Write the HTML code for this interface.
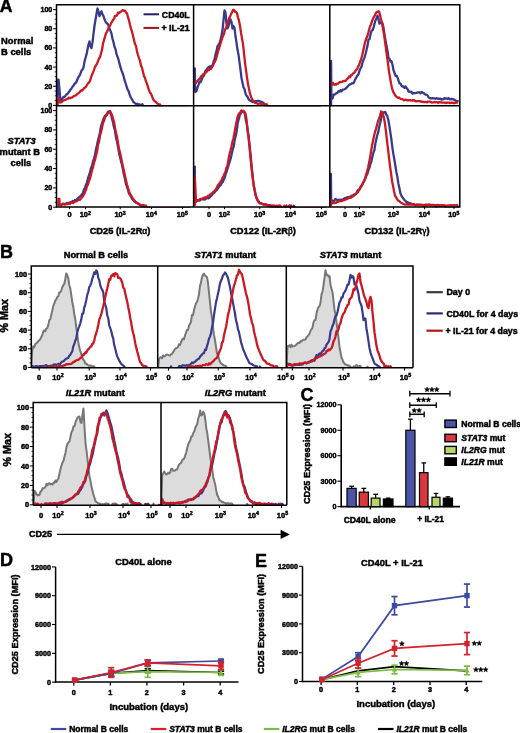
<!DOCTYPE html>
<html><head><meta charset="utf-8"><style>
html,body{margin:0;padding:0;background:#fff;}
body{width:520px;height:733px;overflow:hidden;}
svg{display:block;font-family:"Liberation Sans", sans-serif;filter:blur(0.3px);}
text{stroke:#000;stroke-width:0.45px;}
</style></head><body>
<svg width="520" height="733" viewBox="0 0 520 733">
<rect width="520" height="733" fill="#fff"/>
<defs>
<clipPath id="cA1"><rect x="56.5" y="4.8" width="403.3" height="101.4"/></clipPath>
<clipPath id="cA2"><rect x="56.5" y="105.8" width="403.3" height="101.60000000000001"/></clipPath>
<clipPath id="cB11"><rect x="31.3" y="266.0" width="126.39999999999999" height="102.1"/></clipPath>
<clipPath id="cB12"><rect x="157.7" y="266.0" width="128.60000000000002" height="102.1"/></clipPath>
<clipPath id="cB13"><rect x="286.3" y="266.0" width="126.69999999999999" height="102.1"/></clipPath>
<clipPath id="cB21"><rect x="33.2" y="402.6" width="127.8" height="102.99999999999997"/></clipPath>
<clipPath id="cB22"><rect x="161.0" y="402.6" width="125.80000000000001" height="102.99999999999997"/></clipPath>
</defs>
<text x="-0.20" y="12.40" font-size="17.6" text-anchor="start" font-weight="bold" font-style="normal" fill="#000" >A</text>
<text x="1.00" y="43.50" font-size="9.4" text-anchor="start" font-weight="bold" font-style="normal" fill="#000" >Normal</text>
<text x="1.00" y="54.80" font-size="9.4" text-anchor="start" font-weight="bold" font-style="normal" fill="#000" >B cells</text>
<text x="7.60" y="143.70" font-size="9.3" text-anchor="start" font-weight="bold" font-style="italic" fill="#000" >STAT3</text>
<text x="-0.40" y="154.90" font-size="9.3" text-anchor="start" font-weight="bold" font-style="normal" fill="#000" >mutant B</text>
<text x="10.60" y="166.00" font-size="9.3" text-anchor="start" font-weight="bold" font-style="normal" fill="#000" >cells</text>
<line x1="53.00" y1="105.40" x2="56.50" y2="105.40" stroke="#000" stroke-width="1.0" />
<text x="52.30" y="107.96" font-size="7.1" text-anchor="end" font-weight="bold" font-style="normal" fill="#000" >0</text>
<line x1="53.00" y1="86.24" x2="56.50" y2="86.24" stroke="#000" stroke-width="1.0" />
<text x="52.30" y="88.80" font-size="7.1" text-anchor="end" font-weight="bold" font-style="normal" fill="#000" >20</text>
<line x1="53.00" y1="67.08" x2="56.50" y2="67.08" stroke="#000" stroke-width="1.0" />
<text x="52.30" y="69.64" font-size="7.1" text-anchor="end" font-weight="bold" font-style="normal" fill="#000" >40</text>
<line x1="53.00" y1="47.92" x2="56.50" y2="47.92" stroke="#000" stroke-width="1.0" />
<text x="52.30" y="50.48" font-size="7.1" text-anchor="end" font-weight="bold" font-style="normal" fill="#000" >60</text>
<line x1="53.00" y1="28.76" x2="56.50" y2="28.76" stroke="#000" stroke-width="1.0" />
<text x="52.30" y="31.32" font-size="7.1" text-anchor="end" font-weight="bold" font-style="normal" fill="#000" >80</text>
<line x1="53.00" y1="9.60" x2="56.50" y2="9.60" stroke="#000" stroke-width="1.0" />
<text x="52.30" y="12.16" font-size="7.1" text-anchor="end" font-weight="bold" font-style="normal" fill="#000" >100</text>
<line x1="54.70" y1="100.61" x2="56.50" y2="100.61" stroke="#000" stroke-width="0.8" />
<line x1="54.70" y1="95.82" x2="56.50" y2="95.82" stroke="#000" stroke-width="0.8" />
<line x1="54.70" y1="91.03" x2="56.50" y2="91.03" stroke="#000" stroke-width="0.8" />
<line x1="54.70" y1="81.45" x2="56.50" y2="81.45" stroke="#000" stroke-width="0.8" />
<line x1="54.70" y1="76.66" x2="56.50" y2="76.66" stroke="#000" stroke-width="0.8" />
<line x1="54.70" y1="71.87" x2="56.50" y2="71.87" stroke="#000" stroke-width="0.8" />
<line x1="54.70" y1="62.29" x2="56.50" y2="62.29" stroke="#000" stroke-width="0.8" />
<line x1="54.70" y1="57.50" x2="56.50" y2="57.50" stroke="#000" stroke-width="0.8" />
<line x1="54.70" y1="52.71" x2="56.50" y2="52.71" stroke="#000" stroke-width="0.8" />
<line x1="54.70" y1="43.13" x2="56.50" y2="43.13" stroke="#000" stroke-width="0.8" />
<line x1="54.70" y1="38.34" x2="56.50" y2="38.34" stroke="#000" stroke-width="0.8" />
<line x1="54.70" y1="33.55" x2="56.50" y2="33.55" stroke="#000" stroke-width="0.8" />
<line x1="54.70" y1="23.97" x2="56.50" y2="23.97" stroke="#000" stroke-width="0.8" />
<line x1="54.70" y1="19.18" x2="56.50" y2="19.18" stroke="#000" stroke-width="0.8" />
<line x1="54.70" y1="14.39" x2="56.50" y2="14.39" stroke="#000" stroke-width="0.8" />
<line x1="53.00" y1="207.20" x2="56.50" y2="207.20" stroke="#000" stroke-width="1.0" />
<text x="52.30" y="209.76" font-size="7.1" text-anchor="end" font-weight="bold" font-style="normal" fill="#000" >0</text>
<line x1="53.00" y1="187.88" x2="56.50" y2="187.88" stroke="#000" stroke-width="1.0" />
<text x="52.30" y="190.44" font-size="7.1" text-anchor="end" font-weight="bold" font-style="normal" fill="#000" >20</text>
<line x1="53.00" y1="168.56" x2="56.50" y2="168.56" stroke="#000" stroke-width="1.0" />
<text x="52.30" y="171.12" font-size="7.1" text-anchor="end" font-weight="bold" font-style="normal" fill="#000" >40</text>
<line x1="53.00" y1="149.24" x2="56.50" y2="149.24" stroke="#000" stroke-width="1.0" />
<text x="52.30" y="151.80" font-size="7.1" text-anchor="end" font-weight="bold" font-style="normal" fill="#000" >60</text>
<line x1="53.00" y1="129.92" x2="56.50" y2="129.92" stroke="#000" stroke-width="1.0" />
<text x="52.30" y="132.48" font-size="7.1" text-anchor="end" font-weight="bold" font-style="normal" fill="#000" >80</text>
<line x1="53.00" y1="110.60" x2="56.50" y2="110.60" stroke="#000" stroke-width="1.0" />
<text x="52.30" y="113.16" font-size="7.1" text-anchor="end" font-weight="bold" font-style="normal" fill="#000" >100</text>
<line x1="54.70" y1="202.37" x2="56.50" y2="202.37" stroke="#000" stroke-width="0.8" />
<line x1="54.70" y1="197.54" x2="56.50" y2="197.54" stroke="#000" stroke-width="0.8" />
<line x1="54.70" y1="192.71" x2="56.50" y2="192.71" stroke="#000" stroke-width="0.8" />
<line x1="54.70" y1="183.05" x2="56.50" y2="183.05" stroke="#000" stroke-width="0.8" />
<line x1="54.70" y1="178.22" x2="56.50" y2="178.22" stroke="#000" stroke-width="0.8" />
<line x1="54.70" y1="173.39" x2="56.50" y2="173.39" stroke="#000" stroke-width="0.8" />
<line x1="54.70" y1="163.73" x2="56.50" y2="163.73" stroke="#000" stroke-width="0.8" />
<line x1="54.70" y1="158.90" x2="56.50" y2="158.90" stroke="#000" stroke-width="0.8" />
<line x1="54.70" y1="154.07" x2="56.50" y2="154.07" stroke="#000" stroke-width="0.8" />
<line x1="54.70" y1="144.41" x2="56.50" y2="144.41" stroke="#000" stroke-width="0.8" />
<line x1="54.70" y1="139.58" x2="56.50" y2="139.58" stroke="#000" stroke-width="0.8" />
<line x1="54.70" y1="134.75" x2="56.50" y2="134.75" stroke="#000" stroke-width="0.8" />
<line x1="54.70" y1="125.09" x2="56.50" y2="125.09" stroke="#000" stroke-width="0.8" />
<line x1="54.70" y1="120.26" x2="56.50" y2="120.26" stroke="#000" stroke-width="0.8" />
<line x1="54.70" y1="115.43" x2="56.50" y2="115.43" stroke="#000" stroke-width="0.8" />
<g clip-path="url(#cA1)">
<path d="M57.60,105.40 L57.60,79.60 L58.60,79.60 L60.50,100.88 L61.50,99.84 L62.50,98.48 L63.50,96.91 L64.50,96.95 L65.50,95.69 L66.50,94.33 L67.50,93.91 L68.50,92.56 L69.50,91.36 L70.50,89.57 L71.50,88.53 L72.50,86.78 L73.50,85.68 L74.50,83.75 L75.50,83.25 L76.50,81.72 L77.50,79.25 L78.50,76.97 L79.50,75.72 L80.50,73.45 L81.50,70.59 L82.50,69.59 L83.50,67.36 L84.50,61.61 L85.50,58.03 L86.50,54.40 L87.50,49.43 L88.50,44.55 L89.50,41.42 L90.50,46.18 L91.50,48.12 L92.50,42.41 L93.50,33.80 L94.50,25.76 L95.50,19.70 L96.50,13.97 L97.50,8.53 L98.50,11.90 L99.50,16.21 L100.50,12.85 L101.50,11.25 L102.50,14.43 L103.50,16.13 L104.50,19.29 L105.50,21.59 L106.50,23.07 L107.50,23.62 L108.50,25.52 L109.50,28.42 L110.50,30.91 L111.50,33.61 L112.50,38.75 L113.50,42.16 L114.50,46.73 L115.50,49.19 L116.50,54.11 L117.50,56.59 L118.50,59.54 L119.50,63.70 L120.50,67.09 L121.50,70.37 L122.50,72.78 L123.50,75.80 L124.50,79.96 L125.50,82.99 L126.50,86.11 L127.50,89.43 L128.50,90.94 L129.50,94.13 L130.50,96.73 L131.50,98.55 L132.50,100.16 L133.50,102.15 L134.50,102.78 L135.50,103.74 L136.50,103.79 L137.50,103.70 L138.50,104.27 L139.50,104.47 L140.50,104.58 L141.50,104.53 L142.50,104.29 L143.50,106.90 L144.50,106.90 L145.50,106.90 L146.50,106.90 L147.50,106.90 L148.50,106.90 L149.50,106.90 L150.50,106.90 L151.50,106.90 L152.50,106.90 L153.50,106.90 L154.50,106.90 L155.50,106.90 L156.50,106.90 L157.50,106.90 L158.50,106.90 L159.50,106.90 L160.50,106.90 L161.50,106.90 L162.50,106.90 L163.50,106.90" fill="none" stroke="#383a8e" stroke-width="2.3" stroke-linejoin="round" stroke-linecap="butt"/>
<path d="M57.30,105.40 L57.30,97.00 L60.01,102.54 L61.01,102.42 L62.01,101.75 L63.01,100.84 L64.01,100.35 L65.01,99.77 L66.01,99.56 L67.01,98.96 L68.01,98.72 L69.01,97.61 L70.01,98.42 L71.01,97.66 L72.01,97.51 L73.01,96.68 L74.01,96.05 L75.01,95.69 L76.01,95.17 L77.01,94.12 L78.01,93.46 L79.01,92.85 L80.01,91.64 L81.01,90.51 L82.01,90.57 L83.01,89.67 L84.01,88.28 L85.01,87.56 L86.01,86.63 L87.01,85.00 L88.01,83.35 L89.01,82.60 L90.01,80.92 L91.01,77.71 L92.01,74.71 L93.01,72.33 L94.01,69.83 L95.01,66.71 L96.01,65.32 L97.01,63.72 L98.01,61.17 L99.01,58.65 L100.01,56.92 L101.01,53.56 L102.01,49.82 L103.01,43.73 L104.01,40.00 L105.01,36.58 L106.01,33.26 L107.01,31.60 L108.01,29.79 L109.01,26.51 L110.01,25.84 L111.01,23.42 L112.01,21.75 L113.01,19.89 L114.01,18.92 L115.01,15.86 L116.01,15.93 L117.01,15.30 L118.01,12.57 L119.01,13.13 L120.01,12.06 L121.01,11.89 L122.01,10.50 L123.01,10.14 L124.01,10.91 L125.01,10.62 L126.01,12.50 L127.01,13.34 L128.01,17.42 L129.01,20.34 L130.01,25.00 L131.01,28.61 L132.01,31.66 L133.01,35.82 L134.01,39.91 L135.01,44.25 L136.01,45.85 L137.01,51.58 L138.01,55.02 L139.01,58.05 L140.01,60.83 L141.01,65.78 L142.01,67.72 L143.01,72.04 L144.01,76.11 L145.01,77.97 L146.01,81.48 L147.01,83.86 L148.01,87.09 L149.01,90.16 L150.01,92.71 L151.01,93.64 L152.01,96.27 L153.01,98.86 L154.01,100.57 L155.01,101.43 L156.01,102.22 L157.01,103.33 L158.01,104.02 L159.01,104.43 L160.01,104.38 L161.01,106.90 L162.01,106.90 L163.01,106.90 L164.01,106.90 L165.01,106.90 L166.01,106.90 L167.01,106.90 L168.01,106.90 L169.01,106.90 L170.01,106.90 L171.01,106.90 L172.01,106.90 L173.01,106.90 L174.01,106.90 L175.01,106.90 L176.01,106.90 L177.01,106.90 L178.01,106.90 L179.01,106.90 L180.01,106.90 L181.01,106.90 L182.01,106.90 L183.01,106.90 L184.01,106.90 L185.01,106.90 L186.01,106.90 L187.01,106.90 L188.01,106.90 L189.01,106.90 L190.01,106.90" fill="none" stroke="#cc1822" stroke-width="2.3" stroke-linejoin="round" stroke-linecap="butt"/>
<path d="M194.80,92.00 L194.80,68.50 L195.20,92.00 L196.50,91.04 L197.50,87.44 L198.50,84.82 L199.50,81.73 L200.50,82.26 L201.50,80.21 L202.50,77.29 L203.50,76.23 L204.50,73.62 L205.50,71.01 L206.50,69.82 L207.50,68.12 L208.50,67.25 L209.50,66.44 L210.50,66.82 L211.50,65.87 L212.50,65.75 L213.50,62.13 L214.50,59.44 L215.50,54.44 L216.50,51.16 L217.50,46.13 L218.50,44.91 L219.50,43.17 L220.50,39.84 L221.50,35.33 L222.50,30.26 L223.50,20.36 L224.50,10.30 L225.50,12.69 L226.50,23.54 L227.50,28.39 L228.50,25.97 L229.50,22.28 L230.50,19.34 L231.50,21.87 L232.50,28.63 L233.50,26.05 L234.50,28.05 L235.50,36.28 L236.50,42.67 L237.50,49.56 L238.50,54.67 L239.50,62.09 L240.50,69.73 L241.50,78.12 L242.50,82.83 L243.50,87.31 L244.50,89.05 L245.50,93.34 L246.50,95.76 L247.50,96.69 L248.50,99.02 L249.50,100.42 L250.50,100.69 L251.50,101.23 L252.50,102.04 L253.50,101.67 L254.50,101.53 L255.50,101.27 L256.50,101.36 L257.50,100.80 L258.50,100.84 L259.50,101.11 L260.50,101.60 L261.50,101.78 L262.50,102.34 L263.50,102.85 L264.50,104.47 L265.50,106.90 L266.50,106.90 L267.50,106.90 L268.50,106.90 L269.50,106.90 L270.50,106.90 L271.50,106.90 L272.50,106.90 L273.50,106.90 L274.50,106.90 L275.50,106.90 L276.50,106.90 L277.50,106.90 L278.50,106.90 L279.50,106.90 L280.50,106.90 L281.50,106.90 L282.50,106.90 L283.50,106.90 L284.50,106.90 L285.50,106.90 L286.50,106.90 L287.50,106.90 L288.50,106.90 L289.50,106.90 L290.50,106.90 L291.50,106.90 L292.50,106.90 L293.50,106.90 L294.50,106.90 L295.50,106.90 L296.50,106.90 L297.50,106.90 L298.50,106.90 L299.50,106.90 L300.50,106.90 L301.50,106.90 L302.50,106.90 L303.50,106.90 L304.50,106.90 L305.50,106.90 L306.50,106.90 L307.50,106.90 L308.50,106.90 L309.50,106.90 L310.50,106.90 L311.50,106.90 L312.50,106.90 L313.50,106.90 L314.50,106.90 L315.50,106.90 L316.50,106.90 L317.50,106.90 L318.50,106.90 L319.50,106.90 L320.50,106.90" fill="none" stroke="#383a8e" stroke-width="2.3" stroke-linejoin="round" stroke-linecap="butt"/>
<path d="M194.80,81.60 L196.01,82.84 L197.01,81.44 L198.01,80.35 L199.01,79.24 L200.01,78.54 L201.01,76.28 L202.01,75.82 L203.01,74.34 L204.01,73.94 L205.01,73.47 L206.01,72.22 L207.01,71.60 L208.01,69.50 L209.01,70.05 L210.01,68.59 L211.01,68.87 L212.01,67.06 L213.01,65.60 L214.01,62.84 L215.01,61.48 L216.01,59.08 L217.01,55.13 L218.01,51.42 L219.01,48.64 L220.01,45.24 L221.01,41.76 L222.01,38.87 L223.01,35.93 L224.01,33.77 L225.01,29.42 L226.01,28.64 L227.01,24.83 L228.01,21.58 L229.01,18.43 L230.01,16.65 L231.01,14.36 L232.01,12.21 L233.01,9.83 L234.01,9.84 L235.01,11.86 L236.01,11.93 L237.01,13.28 L238.01,17.57 L239.01,20.65 L240.01,26.02 L241.01,32.71 L242.01,38.51 L243.01,44.16 L244.01,53.10 L245.01,62.86 L246.01,70.21 L247.01,77.66 L248.01,84.12 L249.01,89.09 L250.01,93.43 L251.01,96.74 L252.01,99.08 L253.01,100.61 L254.01,101.68 L255.01,102.92 L256.01,102.99 L257.01,103.41 L258.01,103.90 L259.01,103.67 L260.01,103.66 L261.01,103.98 L262.01,104.28 L263.01,104.44 L264.01,104.15 L265.01,104.14 L266.01,104.44 L267.01,104.52 L268.01,106.90 L269.01,106.90 L270.01,106.90 L271.01,106.90 L272.01,106.90 L273.01,106.90 L274.01,106.90 L275.01,106.90 L276.01,106.90 L277.01,106.90 L278.01,106.90 L279.01,106.90 L280.01,106.90 L281.01,106.90 L282.01,106.90 L283.01,106.90 L284.01,106.90 L285.01,106.90 L286.01,106.90 L287.01,106.90 L288.01,106.90 L289.01,106.90 L290.01,106.90 L291.01,106.90 L292.01,106.90 L293.01,106.90 L294.01,106.90 L295.01,106.90 L296.01,106.90 L297.01,106.90 L298.01,106.90 L299.01,106.90 L300.01,106.90 L301.01,106.90 L302.01,106.90 L303.01,106.90 L304.01,106.90 L305.01,106.90 L306.01,106.90 L307.01,106.90 L308.01,106.90 L309.01,106.90 L310.01,106.90 L311.01,106.90 L312.01,106.90 L313.01,106.90 L314.01,106.90 L315.01,106.90 L316.01,106.90 L317.01,106.90 L318.01,106.90 L319.01,106.90 L320.01,106.90 L321.01,106.90" fill="none" stroke="#cc1822" stroke-width="2.3" stroke-linejoin="round" stroke-linecap="butt"/>
<path d="M331.10,105.40 L331.10,60.80 L331.40,97.70 L332.50,98.61 L333.50,94.68 L334.50,94.71 L335.50,93.76 L336.50,93.19 L337.50,92.82 L338.50,91.24 L339.50,91.52 L340.50,90.21 L341.50,91.45 L342.50,89.71 L343.50,89.61 L344.50,89.25 L345.50,88.67 L346.50,87.68 L347.50,86.63 L348.50,85.58 L349.50,84.39 L350.50,84.43 L351.50,83.49 L352.50,83.27 L353.50,83.27 L354.50,81.12 L355.50,78.84 L356.50,77.12 L357.50,75.42 L358.50,74.14 L359.50,70.70 L360.50,68.32 L361.50,66.69 L362.50,62.60 L363.50,59.85 L364.50,57.61 L365.50,54.03 L366.50,49.99 L367.50,45.84 L368.50,39.53 L369.50,39.20 L370.50,34.54 L371.50,30.74 L372.50,30.29 L373.50,27.72 L374.50,23.72 L375.50,20.38 L376.50,18.29 L377.50,15.61 L378.50,19.13 L379.50,23.68 L380.50,22.74 L381.50,22.30 L382.50,23.37 L383.50,27.56 L384.50,34.62 L385.50,40.15 L386.50,45.85 L387.50,50.74 L388.50,57.99 L389.50,58.93 L390.50,61.50 L391.50,61.28 L392.50,64.74 L393.50,70.17 L394.50,72.72 L395.50,75.80 L396.50,75.60 L397.50,77.44 L398.50,80.47 L399.50,83.27 L400.50,83.55 L401.50,85.63 L402.50,86.53 L403.50,86.33 L404.50,87.83 L405.50,86.51 L406.50,88.00 L407.50,88.79 L408.50,91.63 L409.50,91.52 L410.50,92.14 L411.50,91.70 L412.50,93.60 L413.50,93.25 L414.50,93.19 L415.50,93.18 L416.50,92.84 L417.50,92.49 L418.50,92.33 L419.50,92.29 L420.50,93.34 L421.50,91.92 L422.50,92.57 L423.50,92.88 L424.50,93.77 L425.50,94.58 L426.50,94.61 L427.50,95.43 L428.50,97.23 L429.50,98.18 L430.50,98.25 L431.50,98.39 L432.50,98.09 L433.50,98.41 L434.50,98.39 L435.50,98.77 L436.50,98.07 L437.50,98.71 L438.50,98.74 L439.50,98.86 L440.50,98.65 L441.50,99.67 L442.50,99.13 L443.50,99.25 L444.50,98.08 L445.50,98.68 L446.50,98.49 L447.50,98.98 L448.50,97.99 L449.50,99.25 L450.50,99.41 L451.50,98.80 L452.50,99.09 L453.50,99.36 L454.50,99.86 L455.50,100.44 L456.50,101.32 L457.50,101.12 L458.50,101.65" fill="none" stroke="#383a8e" stroke-width="2.3" stroke-linejoin="round" stroke-linecap="butt"/>
<path d="M331.10,84.60 L332.04,84.61 L333.04,82.96 L334.04,84.75 L335.04,84.18 L336.04,84.59 L337.04,83.57 L338.04,83.66 L339.04,82.58 L340.04,81.86 L341.04,82.20 L342.04,81.96 L343.04,81.22 L344.04,80.89 L345.04,81.01 L346.04,80.45 L347.04,78.99 L348.04,78.28 L349.04,76.53 L350.04,77.36 L351.04,75.35 L352.04,74.86 L353.04,73.40 L354.04,73.21 L355.04,71.66 L356.04,69.75 L357.04,69.49 L358.04,66.49 L359.04,65.32 L360.04,61.68 L361.04,59.67 L362.04,55.98 L363.04,51.42 L364.04,46.90 L365.04,42.31 L366.04,39.29 L367.04,36.77 L368.04,33.91 L369.04,29.94 L370.04,26.22 L371.04,24.58 L372.04,20.92 L373.04,18.78 L374.04,16.61 L375.04,15.03 L376.04,12.70 L377.04,11.97 L378.04,11.36 L379.04,11.40 L380.04,15.19 L381.04,19.19 L382.04,23.10 L383.04,29.17 L384.04,34.37 L385.04,41.89 L386.04,49.25 L387.04,56.68 L388.04,63.84 L389.04,71.87 L390.04,77.61 L391.04,83.56 L392.04,88.37 L393.04,91.56 L394.04,93.20 L395.04,94.97 L396.04,96.39 L397.04,97.23 L398.04,97.81 L399.04,97.48 L400.04,98.49 L401.04,98.83 L402.04,99.12 L403.04,99.58 L404.04,100.43 L405.04,99.81 L406.04,99.71 L407.04,100.23 L408.04,100.18 L409.04,100.45 L410.04,100.11 L411.04,100.46 L412.04,100.60 L413.04,100.16 L414.04,100.15 L415.04,101.21 L416.04,101.26 L417.04,101.08 L418.04,101.04 L419.04,101.24 L420.04,101.10 L421.04,101.33 L422.04,101.95 L423.04,101.66 L424.04,102.21 L425.04,102.00 L426.04,102.05 L427.04,102.26 L428.04,101.57 L429.04,101.70 L430.04,101.63 L431.04,102.13 L432.04,102.66 L433.04,102.33 L434.04,101.96 L435.04,102.39 L436.04,102.15 L437.04,102.11 L438.04,102.99 L439.04,102.12 L440.04,102.46 L441.04,102.19 L442.04,102.67 L443.04,102.62 L444.04,102.65 L445.04,102.68 L446.04,103.11 L447.04,102.60 L448.04,102.68 L449.04,102.64 L450.04,103.16 L451.04,102.75 L452.04,102.57 L453.04,102.75 L454.04,103.30 L455.04,102.66 L456.04,102.73 L457.04,102.60 L458.04,102.42" fill="none" stroke="#cc1822" stroke-width="2.3" stroke-linejoin="round" stroke-linecap="butt"/>
</g>
<g clip-path="url(#cA2)">
<path d="M58.96,205.52 L59.96,205.08 L60.96,205.12 L61.96,204.61 L62.96,203.70 L63.96,203.99 L64.96,203.83 L65.96,203.77 L66.96,202.86 L67.96,203.21 L68.96,202.71 L69.96,202.67 L70.96,201.98 L71.96,201.80 L72.96,200.89 L73.96,201.74 L74.96,200.04 L75.96,200.44 L76.96,199.23 L77.96,198.25 L78.96,197.56 L79.96,196.47 L80.96,195.86 L81.96,194.15 L82.96,192.93 L83.96,189.47 L84.96,188.13 L85.96,184.77 L86.96,182.79 L87.96,178.14 L88.96,175.43 L89.96,172.27 L90.96,168.27 L91.96,165.92 L92.96,161.64 L93.96,158.81 L94.96,155.18 L95.96,149.49 L96.96,145.14 L97.96,140.57 L98.96,136.88 L99.96,132.46 L100.96,126.61 L101.96,123.35 L102.96,120.33 L103.96,117.74 L104.96,116.09 L105.96,114.85 L106.96,114.43 L107.96,111.76 L108.96,111.66 L109.96,112.72 L110.96,114.09 L111.96,118.59 L112.96,122.28 L113.96,127.18 L114.96,130.36 L115.96,137.57 L116.96,141.11 L117.96,146.81 L118.96,152.40 L119.96,156.88 L120.96,161.11 L121.96,164.78 L122.96,169.51 L123.96,174.84 L124.96,178.86 L125.96,183.98 L126.96,187.01 L127.96,189.66 L128.96,193.65 L129.96,194.94 L130.96,196.51 L131.96,198.78 L132.96,199.55 L133.96,201.27 L134.96,201.53 L135.96,202.75 L136.96,202.99 L137.96,203.55 L138.96,204.15 L139.96,204.79 L140.96,205.24 L141.96,208.10 L142.96,205.31 L143.96,208.10 L144.96,208.10 L145.96,208.10 L146.96,208.10 L147.96,208.10 L148.96,208.10 L149.96,208.10 L150.96,208.10 L151.96,208.10 L152.96,208.10 L153.96,208.10 L154.96,208.10 L155.96,208.10 L156.96,208.10 L157.96,208.10 L158.96,208.10 L159.96,208.10 L160.96,208.10 L161.96,208.10 L162.96,208.10 L163.96,208.10 L164.96,208.10 L165.96,208.10 L166.96,208.10 L167.96,208.10 L168.96,208.10 L169.96,208.10 L170.96,208.10 L171.96,208.10 L172.96,208.10 L173.96,208.10 L174.96,208.10 L175.96,208.10 L176.96,208.10 L177.96,208.10 L178.96,208.10 L179.96,208.10 L180.96,208.10 L181.96,208.10 L182.96,208.10 L183.96,208.10 L184.96,208.10 L185.96,208.10 L186.96,208.10 L187.96,208.10 L188.96,208.10 L189.96,208.10" fill="none" stroke="#383a8e" stroke-width="2.3" stroke-linejoin="round" stroke-linecap="butt"/>
<path d="M58.40,206.00 L58.40,198.80 L59.40,198.80 L59.60,204.60 L60.04,205.04 L61.04,204.52 L62.04,204.36 L63.04,203.93 L64.04,204.42 L65.04,204.60 L66.04,204.17 L67.04,204.02 L68.04,204.06 L69.04,203.22 L70.04,203.93 L71.04,202.60 L72.04,202.62 L73.04,203.05 L74.04,202.17 L75.04,201.70 L76.04,201.36 L77.04,201.20 L78.04,199.82 L79.04,199.62 L80.04,199.87 L81.04,198.64 L82.04,197.21 L83.04,196.02 L84.04,194.35 L85.04,192.04 L86.04,189.64 L87.04,186.25 L88.04,184.19 L89.04,180.67 L90.04,178.39 L91.04,174.49 L92.04,170.06 L93.04,167.12 L94.04,162.51 L95.04,159.93 L96.04,155.11 L97.04,151.62 L98.04,144.70 L99.04,141.55 L100.04,135.22 L101.04,132.07 L102.04,127.43 L103.04,122.84 L104.04,120.65 L105.04,117.34 L106.04,115.88 L107.04,114.75 L108.04,112.62 L109.04,112.04 L110.04,110.90 L111.04,113.42 L112.04,115.06 L113.04,118.63 L114.04,122.23 L115.04,127.87 L116.04,132.99 L117.04,137.10 L118.04,143.10 L119.04,149.15 L120.04,152.88 L121.04,157.28 L122.04,162.84 L123.04,166.99 L124.04,171.24 L125.04,175.93 L126.04,180.47 L127.04,184.83 L128.04,188.19 L129.04,191.03 L130.04,194.02 L131.04,195.39 L132.04,197.25 L133.04,198.73 L134.04,199.88 L135.04,201.30 L136.04,202.33 L137.04,202.76 L138.04,203.84 L139.04,203.93 L140.04,204.88 L141.04,205.28 L142.04,205.25 L143.04,205.06 L144.04,205.55 L145.04,205.51 L146.04,205.68 L147.04,208.10 L148.04,208.10 L149.04,208.10 L150.04,208.10 L151.04,208.10 L152.04,208.10 L153.04,208.10 L154.04,208.10 L155.04,208.10 L156.04,208.10 L157.04,208.10 L158.04,208.10 L159.04,208.10 L160.04,208.10 L161.04,208.10 L162.04,208.10 L163.04,208.10 L164.04,208.10 L165.04,208.10 L166.04,208.10 L167.04,208.10 L168.04,208.10 L169.04,208.10 L170.04,208.10 L171.04,208.10 L172.04,208.10 L173.04,208.10 L174.04,208.10 L175.04,208.10 L176.04,208.10 L177.04,208.10 L178.04,208.10 L179.04,208.10 L180.04,208.10 L181.04,208.10 L182.04,208.10 L183.04,208.10 L184.04,208.10 L185.04,208.10 L186.04,208.10 L187.04,208.10 L188.04,208.10 L189.04,208.10 L190.04,208.10" fill="none" stroke="#cc1822" stroke-width="2.3" stroke-linejoin="round" stroke-linecap="butt"/>
<path d="M194.80,205.50 L194.80,166.60 L195.00,200.00 L195.77,202.07 L196.77,200.99 L197.77,200.72 L198.77,200.65 L199.77,200.50 L200.77,199.71 L201.77,199.30 L202.77,199.05 L203.77,199.46 L204.77,199.67 L205.77,198.85 L206.77,198.19 L207.77,198.04 L208.77,198.27 L209.77,197.34 L210.77,196.05 L211.77,195.39 L212.77,193.85 L213.77,193.19 L214.77,192.19 L215.77,190.74 L216.77,190.19 L217.77,188.58 L218.77,187.02 L219.77,185.87 L220.77,185.03 L221.77,182.73 L222.77,182.04 L223.77,179.57 L224.77,177.41 L225.77,173.88 L226.77,171.28 L227.77,168.00 L228.77,164.52 L229.77,161.30 L230.77,158.24 L231.77,153.67 L232.77,149.25 L233.77,146.31 L234.77,139.43 L235.77,135.71 L236.77,130.42 L237.77,122.69 L238.77,119.24 L239.77,115.13 L240.77,113.13 L241.77,112.34 L242.77,111.02 L243.77,112.40 L244.77,112.66 L245.77,120.20 L246.77,123.45 L247.77,130.78 L248.77,137.28 L249.77,147.15 L250.77,156.32 L251.77,168.06 L252.77,177.02 L253.77,186.22 L254.77,191.08 L255.77,195.90 L256.77,198.72 L257.77,200.03 L258.77,201.54 L259.77,203.16 L260.77,203.08 L261.77,203.50 L262.77,203.89 L263.77,204.46 L264.77,204.45 L265.77,204.67 L266.77,205.15 L267.77,205.35 L268.77,205.18 L269.77,205.61 L270.77,205.40 L271.77,205.60 L272.77,205.67 L273.77,208.10 L274.77,208.10 L275.77,208.10 L276.77,208.10 L277.77,208.10 L278.77,205.75 L279.77,205.63 L280.77,208.10 L281.77,208.10 L282.77,208.10 L283.77,208.10 L284.77,208.10 L285.77,208.10 L286.77,208.10 L287.77,208.10 L288.77,205.80 L289.77,205.54 L290.77,205.73 L291.77,208.10 L292.77,208.10 L293.77,205.77 L294.77,208.10 L295.77,208.10 L296.77,208.10 L297.77,208.10 L298.77,208.10 L299.77,208.10 L300.77,208.10 L301.77,208.10 L302.77,208.10 L303.77,208.10 L304.77,208.10 L305.77,208.10 L306.77,208.10 L307.77,208.10 L308.77,208.10 L309.77,208.10 L310.77,208.10 L311.77,208.10 L312.77,208.10 L313.77,208.10 L314.77,208.10 L315.77,208.10 L316.77,208.10 L317.77,208.10 L318.77,208.10 L319.77,208.10 L320.77,208.10 L321.77,208.10 L322.77,208.10 L323.77,208.10 L324.77,208.10 L325.77,208.10" fill="none" stroke="#383a8e" stroke-width="2.3" stroke-linejoin="round" stroke-linecap="butt"/>
<path d="M194.80,205.50 L194.80,176.40 L196.00,201.30 L197.38,200.72 L198.38,199.77 L199.38,199.58 L200.38,198.84 L201.38,198.89 L202.38,198.97 L203.38,197.90 L204.38,198.12 L205.38,197.21 L206.38,197.68 L207.38,196.43 L208.38,195.61 L209.38,195.28 L210.38,194.43 L211.38,193.55 L212.38,193.08 L213.38,191.82 L214.38,191.28 L215.38,189.99 L216.38,188.27 L217.38,186.39 L218.38,184.60 L219.38,183.57 L220.38,181.85 L221.38,180.80 L222.38,178.01 L223.38,176.27 L224.38,174.03 L225.38,172.03 L226.38,167.92 L227.38,165.83 L228.38,160.21 L229.38,154.74 L230.38,150.99 L231.38,147.06 L232.38,141.94 L233.38,138.82 L234.38,133.22 L235.38,127.63 L236.38,122.59 L237.38,117.82 L238.38,114.69 L239.38,113.22 L240.38,112.26 L241.38,110.39 L242.38,111.74 L243.38,110.77 L244.38,111.95 L245.38,113.17 L246.38,118.46 L247.38,128.78 L248.38,136.72 L249.38,145.32 L250.38,156.70 L251.38,166.42 L252.38,175.42 L253.38,183.36 L254.38,188.32 L255.38,193.76 L256.38,197.18 L257.38,200.00 L258.38,201.84 L259.38,202.98 L260.38,203.56 L261.38,203.52 L262.38,204.09 L263.38,204.49 L264.38,204.49 L265.38,204.15 L266.38,204.55 L267.38,205.12 L268.38,205.03 L269.38,205.44 L270.38,205.42 L271.38,208.10 L272.38,208.10 L273.38,205.66 L274.38,205.50 L275.38,208.10 L276.38,205.73 L277.38,205.70 L278.38,208.10 L279.38,205.79 L280.38,205.68 L281.38,208.10 L282.38,208.10 L283.38,208.10 L284.38,205.78 L285.38,208.10 L286.38,205.54 L287.38,208.10 L288.38,208.10 L289.38,205.63 L290.38,208.10 L291.38,205.79 L292.38,208.10 L293.38,208.10 L294.38,208.10 L295.38,208.10 L296.38,208.10 L297.38,208.10 L298.38,208.10 L299.38,208.10 L300.38,208.10 L301.38,208.10 L302.38,208.10 L303.38,208.10 L304.38,208.10 L305.38,208.10 L306.38,208.10 L307.38,208.10 L308.38,208.10 L309.38,208.10 L310.38,208.10 L311.38,208.10 L312.38,208.10 L313.38,208.10 L314.38,208.10 L315.38,208.10 L316.38,208.10 L317.38,208.10 L318.38,208.10 L319.38,208.10 L320.38,208.10 L321.38,208.10 L322.38,208.10 L323.38,208.10 L324.38,208.10 L325.38,208.10 L326.38,208.10" fill="none" stroke="#cc1822" stroke-width="2.3" stroke-linejoin="round" stroke-linecap="butt"/>
<path d="M330.90,206.00 L330.90,173.80 L331.20,200.50 L333.38,200.79 L334.38,200.77 L335.38,198.91 L336.38,199.57 L337.38,199.86 L338.38,199.84 L339.38,199.77 L340.38,199.98 L341.38,199.62 L342.38,199.57 L343.38,199.35 L344.38,198.29 L345.38,197.97 L346.38,197.98 L347.38,197.17 L348.38,197.31 L349.38,196.95 L350.38,196.80 L351.38,195.68 L352.38,196.30 L353.38,194.94 L354.38,194.33 L355.38,194.09 L356.38,193.11 L357.38,190.90 L358.38,189.90 L359.38,189.62 L360.38,187.14 L361.38,186.50 L362.38,184.33 L363.38,182.36 L364.38,179.92 L365.38,178.33 L366.38,175.60 L367.38,173.99 L368.38,170.34 L369.38,167.83 L370.38,164.14 L371.38,161.32 L372.38,156.94 L373.38,152.60 L374.38,150.22 L375.38,143.50 L376.38,138.91 L377.38,134.79 L378.38,131.40 L379.38,126.00 L380.38,122.25 L381.38,117.38 L382.38,113.40 L383.38,113.10 L384.38,112.03 L385.38,112.09 L386.38,114.80 L387.38,116.15 L388.38,120.28 L389.38,125.83 L390.38,132.67 L391.38,139.32 L392.38,147.56 L393.38,154.07 L394.38,159.75 L395.38,165.91 L396.38,172.23 L397.38,176.82 L398.38,183.66 L399.38,187.99 L400.38,193.25 L401.38,195.66 L402.38,197.33 L403.38,198.42 L404.38,200.00 L405.38,200.90 L406.38,201.98 L407.38,202.20 L408.38,203.17 L409.38,202.85 L410.38,203.49 L411.38,203.72 L412.38,204.61 L413.38,204.22 L414.38,204.84 L415.38,205.33 L416.38,204.70 L417.38,204.55 L418.38,204.86 L419.38,204.70 L420.38,204.89 L421.38,204.76 L422.38,205.08 L423.38,205.18 L424.38,205.39 L425.38,205.01 L426.38,205.49 L427.38,204.94 L428.38,204.89 L429.38,204.85 L430.38,205.05 L431.38,205.09 L432.38,205.35 L433.38,205.48 L434.38,205.55 L435.38,205.53 L436.38,208.10 L437.38,205.15 L438.38,205.22 L439.38,205.54 L440.38,205.53 L441.38,205.28 L442.38,205.62 L443.38,205.66 L444.38,205.34 L445.38,208.10 L446.38,208.10 L447.38,208.10 L448.38,208.10 L449.38,208.10 L450.38,208.10 L451.38,208.10 L452.38,208.10 L453.38,208.10 L454.38,208.10 L455.38,208.10 L456.38,208.10 L457.38,208.10 L458.38,205.53" fill="none" stroke="#383a8e" stroke-width="2.3" stroke-linejoin="round" stroke-linecap="butt"/>
<path d="M330.90,206.00 L330.90,199.30 L332.00,203.50 L332.04,202.22 L333.04,202.89 L334.04,203.05 L335.04,202.84 L336.04,202.91 L337.04,201.98 L338.04,201.83 L339.04,201.36 L340.04,201.08 L341.04,200.99 L342.04,201.07 L343.04,200.36 L344.04,200.07 L345.04,199.72 L346.04,199.35 L347.04,198.89 L348.04,198.45 L349.04,198.01 L350.04,197.17 L351.04,197.70 L352.04,196.29 L353.04,196.31 L354.04,195.46 L355.04,194.81 L356.04,193.96 L357.04,192.90 L358.04,192.08 L359.04,189.87 L360.04,188.84 L361.04,185.86 L362.04,185.24 L363.04,183.03 L364.04,181.27 L365.04,179.33 L366.04,174.56 L367.04,171.88 L368.04,167.68 L369.04,162.89 L370.04,157.61 L371.04,151.43 L372.04,145.75 L373.04,140.69 L374.04,136.30 L375.04,131.78 L376.04,128.89 L377.04,124.78 L378.04,121.28 L379.04,118.66 L380.04,115.76 L381.04,111.46 L382.04,111.99 L383.04,114.54 L384.04,118.09 L385.04,124.20 L386.04,132.21 L387.04,141.03 L388.04,149.32 L389.04,157.91 L390.04,166.59 L391.04,173.16 L392.04,181.14 L393.04,185.79 L394.04,191.19 L395.04,195.72 L396.04,197.06 L397.04,199.27 L398.04,200.51 L399.04,200.93 L400.04,201.81 L401.04,202.78 L402.04,203.27 L403.04,203.70 L404.04,204.26 L405.04,204.63 L406.04,204.58 L407.04,203.65 L408.04,204.57 L409.04,204.53 L410.04,204.52 L411.04,204.27 L412.04,204.40 L413.04,204.40 L414.04,204.26 L415.04,204.86 L416.04,204.95 L417.04,204.85 L418.04,204.75 L419.04,205.15 L420.04,205.00 L421.04,205.07 L422.04,204.83 L423.04,205.40 L424.04,204.88 L425.04,205.37 L426.04,204.48 L427.04,205.00 L428.04,205.17 L429.04,204.52 L430.04,204.98 L431.04,204.98 L432.04,204.97 L433.04,204.90 L434.04,204.96 L435.04,205.26 L436.04,205.20 L437.04,205.17 L438.04,204.99 L439.04,205.06 L440.04,205.62 L441.04,205.19 L442.04,205.15 L443.04,205.26 L444.04,205.43 L445.04,205.55 L446.04,205.54 L447.04,205.56 L448.04,205.45 L449.04,205.34 L450.04,205.45 L451.04,205.10 L452.04,205.31 L453.04,205.58 L454.04,205.13 L455.04,205.35 L456.04,205.36 L457.04,204.99 L458.04,204.86" fill="none" stroke="#cc1822" stroke-width="2.3" stroke-linejoin="round" stroke-linecap="butt"/>
</g>
<path d="M56.5,207.0 L56.5,4.8 L459.8,4.8 L459.8,207.0 Z M56.5,105.8 L459.8,105.8 M193.6,4.8 L193.6,207.0 M329.8,4.8 L329.8,207.0" fill="none" stroke="#000" stroke-width="1.5"/>
<line x1="143.50" y1="14.30" x2="159.00" y2="14.30" stroke="#22206a" stroke-width="2.0" />
<text x="161.80" y="17.80" font-size="8.8" text-anchor="start" font-weight="bold" font-style="normal" fill="#000" >CD40L</text>
<line x1="143.50" y1="27.90" x2="159.00" y2="27.90" stroke="#a0101a" stroke-width="2.0" />
<text x="161.50" y="30.90" font-size="8.8" text-anchor="start" font-weight="bold" font-style="normal" fill="#000" >+ IL-21</text>
<line x1="69.50" y1="207.00" x2="69.50" y2="209.20" stroke="#000" stroke-width="1.0" />
<line x1="85.50" y1="207.00" x2="85.50" y2="209.20" stroke="#000" stroke-width="1.0" />
<line x1="120.20" y1="207.00" x2="120.20" y2="209.20" stroke="#000" stroke-width="1.0" />
<line x1="151.50" y1="207.00" x2="151.50" y2="209.20" stroke="#000" stroke-width="1.0" />
<line x1="182.50" y1="207.00" x2="182.50" y2="209.20" stroke="#000" stroke-width="1.0" />
<text x="69.50" y="217.10" font-size="7.4" text-anchor="middle" font-weight="bold" font-style="normal" fill="#000" >0</text>
<text x="85.30" y="217.10" font-size="7.4" text-anchor="middle" font-weight="bold">10<tspan font-size="5.18" dy="-2.59">2</tspan></text>
<text x="120.00" y="217.10" font-size="7.4" text-anchor="middle" font-weight="bold">10<tspan font-size="5.18" dy="-2.59">3</tspan></text>
<text x="151.30" y="217.10" font-size="7.4" text-anchor="middle" font-weight="bold">10<tspan font-size="5.18" dy="-2.59">4</tspan></text>
<text x="182.30" y="217.10" font-size="7.4" text-anchor="middle" font-weight="bold">10<tspan font-size="5.18" dy="-2.59">5</tspan></text>
<line x1="209.00" y1="207.00" x2="209.00" y2="209.20" stroke="#000" stroke-width="1.0" />
<line x1="224.50" y1="207.00" x2="224.50" y2="209.20" stroke="#000" stroke-width="1.0" />
<line x1="259.80" y1="207.00" x2="259.80" y2="209.20" stroke="#000" stroke-width="1.0" />
<line x1="290.50" y1="207.00" x2="290.50" y2="209.20" stroke="#000" stroke-width="1.0" />
<line x1="321.50" y1="207.00" x2="321.50" y2="209.20" stroke="#000" stroke-width="1.0" />
<text x="209.00" y="217.10" font-size="7.4" text-anchor="middle" font-weight="bold" font-style="normal" fill="#000" >0</text>
<text x="224.30" y="217.10" font-size="7.4" text-anchor="middle" font-weight="bold">10<tspan font-size="5.18" dy="-2.59">2</tspan></text>
<text x="259.60" y="217.10" font-size="7.4" text-anchor="middle" font-weight="bold">10<tspan font-size="5.18" dy="-2.59">3</tspan></text>
<text x="290.30" y="217.10" font-size="7.4" text-anchor="middle" font-weight="bold">10<tspan font-size="5.18" dy="-2.59">4</tspan></text>
<text x="321.30" y="217.10" font-size="7.4" text-anchor="middle" font-weight="bold">10<tspan font-size="5.18" dy="-2.59">5</tspan></text>
<line x1="345.00" y1="207.00" x2="345.00" y2="209.20" stroke="#000" stroke-width="1.0" />
<line x1="359.50" y1="207.00" x2="359.50" y2="209.20" stroke="#000" stroke-width="1.0" />
<line x1="393.50" y1="207.00" x2="393.50" y2="209.20" stroke="#000" stroke-width="1.0" />
<line x1="424.50" y1="207.00" x2="424.50" y2="209.20" stroke="#000" stroke-width="1.0" />
<line x1="454.00" y1="207.00" x2="454.00" y2="209.20" stroke="#000" stroke-width="1.0" />
<text x="345.00" y="217.10" font-size="7.4" text-anchor="middle" font-weight="bold" font-style="normal" fill="#000" >0</text>
<text x="359.30" y="217.10" font-size="7.4" text-anchor="middle" font-weight="bold">10<tspan font-size="5.18" dy="-2.59">2</tspan></text>
<text x="393.30" y="217.10" font-size="7.4" text-anchor="middle" font-weight="bold">10<tspan font-size="5.18" dy="-2.59">3</tspan></text>
<text x="424.30" y="217.10" font-size="7.4" text-anchor="middle" font-weight="bold">10<tspan font-size="5.18" dy="-2.59">4</tspan></text>
<text x="453.80" y="217.10" font-size="7.4" text-anchor="middle" font-weight="bold">10<tspan font-size="5.18" dy="-2.59">5</tspan></text>
<text x="120.00" y="234.00" font-size="9.3" text-anchor="middle" font-weight="bold" font-style="normal" fill="#000" >CD25 (IL-2R<tspan font-family="Liberation Serif" font-weight="normal">&#945;</tspan>)</text>
<text x="263.00" y="234.00" font-size="9.3" text-anchor="middle" font-weight="bold" font-style="normal" fill="#000" >CD122 (IL-2R<tspan font-family="Liberation Serif" font-weight="normal">&#946;</tspan>)</text>
<text x="397.00" y="234.00" font-size="9.3" text-anchor="middle" font-weight="bold" font-style="normal" fill="#000" >CD132 (IL-2R<tspan font-family="Liberation Serif" font-weight="normal">&#947;</tspan>)</text>
<text x="0.10" y="258.10" font-size="18" text-anchor="start" font-weight="bold" font-style="normal" fill="#000" >B</text>
<g clip-path="url(#cB11)">
<path d="M31.25,368.60 L32.25,350.42 L33.25,346.22 L34.25,347.14 L35.25,344.32 L36.25,343.32 L37.25,342.43 L38.25,341.28 L39.25,340.33 L40.25,339.11 L41.25,337.07 L42.25,335.32 L43.25,331.46 L44.25,330.32 L45.25,331.34 L46.25,328.59 L47.25,328.10 L48.25,325.34 L49.25,320.31 L50.25,319.35 L51.25,314.93 L52.25,310.75 L53.25,305.94 L54.25,303.67 L55.25,300.71 L56.25,299.49 L57.25,297.00 L58.25,296.41 L59.25,292.58 L60.25,292.34 L61.25,290.69 L62.25,287.21 L63.25,285.22 L64.25,284.03 L65.25,279.23 L66.25,273.41 L67.25,274.99 L68.25,278.17 L69.25,285.00 L70.25,288.21 L71.25,294.83 L72.25,301.96 L73.25,306.49 L74.25,314.07 L75.25,319.04 L76.25,327.32 L77.25,333.98 L78.25,341.85 L79.25,347.34 L80.25,350.84 L81.25,353.86 L82.25,357.52 L83.25,359.69 L84.25,360.48 L85.25,363.57 L86.25,363.45 L87.25,364.70 L88.25,365.30 L89.25,365.83 L90.25,365.55 L91.25,365.82 L92.25,366.26 L93.25,366.30 L94.25,366.57 L95.25,368.60 L96.25,368.60 L97.25,368.60 L98.25,368.60 L99.25,368.60 L100.25,368.60 L101.25,368.60 L102.25,368.60 L103.25,368.60 L104.25,368.60 L105.25,368.60 L106.25,368.60 L107.25,368.60 L108.25,368.60 L109.25,368.60 L110.25,368.60 L111.25,368.60 L112.25,368.60 L113.25,368.60 L114.25,368.60 L115.25,368.60 L116.25,368.60 L117.25,368.60 L118.25,368.60 L119.25,368.60 L120.25,368.60 L121.25,368.60 L122.25,368.60 L123.25,368.60 L124.25,368.60 L125.25,368.60 L126.25,368.60 L127.25,368.60 L128.25,368.60 L129.25,368.60 L130.25,368.60 L131.25,368.60 L132.25,368.60 L133.25,368.60 L134.25,368.60 L135.25,368.60 L136.25,368.60 L137.25,368.60 L138.25,368.60 L139.25,368.60 L140.25,368.60 L141.25,368.60 L142.25,368.60 L143.25,368.60 L144.25,368.60 L145.25,368.60 L146.25,368.60 L147.25,368.60 L148.25,368.60 L149.25,368.60 L150.25,368.60 L151.25,368.60 L152.25,368.60 L153.25,368.60 L154.25,368.60 L154.25,367.40 L31.25,367.40 Z" fill="#dcdcdc" stroke="none"/>
<path d="M31.25,368.60 L32.25,350.42 L33.25,346.22 L34.25,347.14 L35.25,344.32 L36.25,343.32 L37.25,342.43 L38.25,341.28 L39.25,340.33 L40.25,339.11 L41.25,337.07 L42.25,335.32 L43.25,331.46 L44.25,330.32 L45.25,331.34 L46.25,328.59 L47.25,328.10 L48.25,325.34 L49.25,320.31 L50.25,319.35 L51.25,314.93 L52.25,310.75 L53.25,305.94 L54.25,303.67 L55.25,300.71 L56.25,299.49 L57.25,297.00 L58.25,296.41 L59.25,292.58 L60.25,292.34 L61.25,290.69 L62.25,287.21 L63.25,285.22 L64.25,284.03 L65.25,279.23 L66.25,273.41 L67.25,274.99 L68.25,278.17 L69.25,285.00 L70.25,288.21 L71.25,294.83 L72.25,301.96 L73.25,306.49 L74.25,314.07 L75.25,319.04 L76.25,327.32 L77.25,333.98 L78.25,341.85 L79.25,347.34 L80.25,350.84 L81.25,353.86 L82.25,357.52 L83.25,359.69 L84.25,360.48 L85.25,363.57 L86.25,363.45 L87.25,364.70 L88.25,365.30 L89.25,365.83 L90.25,365.55 L91.25,365.82 L92.25,366.26 L93.25,366.30 L94.25,366.57 L95.25,368.60 L96.25,368.60 L97.25,368.60 L98.25,368.60 L99.25,368.60 L100.25,368.60 L101.25,368.60 L102.25,368.60 L103.25,368.60 L104.25,368.60 L105.25,368.60 L106.25,368.60 L107.25,368.60 L108.25,368.60 L109.25,368.60 L110.25,368.60 L111.25,368.60 L112.25,368.60 L113.25,368.60 L114.25,368.60 L115.25,368.60 L116.25,368.60 L117.25,368.60 L118.25,368.60 L119.25,368.60 L120.25,368.60 L121.25,368.60 L122.25,368.60 L123.25,368.60 L124.25,368.60 L125.25,368.60 L126.25,368.60 L127.25,368.60 L128.25,368.60 L129.25,368.60 L130.25,368.60 L131.25,368.60 L132.25,368.60 L133.25,368.60 L134.25,368.60 L135.25,368.60 L136.25,368.60 L137.25,368.60 L138.25,368.60 L139.25,368.60 L140.25,368.60 L141.25,368.60 L142.25,368.60 L143.25,368.60 L144.25,368.60 L145.25,368.60 L146.25,368.60 L147.25,368.60 L148.25,368.60 L149.25,368.60 L150.25,368.60 L151.25,368.60 L152.25,368.60 L153.25,368.60 L154.25,368.60" fill="none" stroke="#777777" stroke-width="2.0" stroke-linejoin="round" stroke-linecap="butt"/>
<path d="M31.25,366.02 L32.25,365.97 L33.25,366.20 L34.25,368.60 L35.25,366.24 L36.25,365.98 L37.25,366.22 L38.25,368.60 L39.25,366.19 L40.25,366.00 L41.25,366.17 L42.25,366.02 L43.25,365.96 L44.25,366.18 L45.25,365.44 L46.25,365.01 L47.25,366.16 L48.25,366.02 L49.25,366.21 L50.25,365.84 L51.25,365.69 L52.25,366.32 L53.25,364.71 L54.25,364.73 L55.25,364.34 L56.25,364.99 L57.25,364.40 L58.25,363.84 L59.25,364.11 L60.25,364.06 L61.25,362.31 L62.25,361.52 L63.25,361.36 L64.25,360.57 L65.25,359.39 L66.25,358.70 L67.25,358.25 L68.25,358.04 L69.25,355.60 L70.25,355.01 L71.25,352.86 L72.25,351.66 L73.25,346.36 L74.25,344.25 L75.25,340.73 L76.25,338.53 L77.25,332.51 L78.25,328.68 L79.25,326.37 L80.25,323.49 L81.25,319.65 L82.25,313.60 L83.25,313.64 L84.25,307.53 L85.25,304.60 L86.25,300.13 L87.25,294.90 L88.25,292.08 L89.25,287.03 L90.25,285.54 L91.25,283.12 L92.25,278.85 L93.25,275.98 L94.25,272.27 L95.25,273.92 L96.25,270.46 L97.25,271.88 L98.25,277.87 L99.25,279.90 L100.25,285.38 L101.25,288.22 L102.25,289.74 L103.25,292.37 L104.25,301.36 L105.25,304.76 L106.25,307.98 L107.25,315.40 L108.25,318.26 L109.25,325.52 L110.25,328.17 L111.25,331.00 L112.25,335.65 L113.25,338.62 L114.25,345.30 L115.25,348.80 L116.25,352.99 L117.25,356.37 L118.25,358.53 L119.25,360.61 L120.25,362.35 L121.25,363.93 L122.25,364.78 L123.25,365.68 L124.25,366.46 L125.25,368.60 L126.25,368.60 L127.25,368.60 L128.25,368.60 L129.25,368.60 L130.25,368.60 L131.25,368.60 L132.25,368.60 L133.25,368.60 L134.25,368.60 L135.25,368.60 L136.25,368.60 L137.25,368.60 L138.25,368.60 L139.25,368.60 L140.25,368.60 L141.25,368.60 L142.25,368.60 L143.25,368.60 L144.25,368.60 L145.25,368.60 L146.25,368.60 L147.25,368.60 L148.25,368.60 L149.25,368.60 L150.25,368.60 L151.25,368.60 L152.25,368.60 L153.25,368.60 L154.25,368.60" fill="none" stroke="#383a8e" stroke-width="2.2" stroke-linejoin="round" stroke-linecap="butt"/>
<path d="M31.25,368.60 L32.25,368.60 L33.25,368.60 L34.25,368.60 L35.25,368.60 L36.25,368.60 L37.25,368.60 L38.25,368.60 L39.25,368.60 L40.25,368.60 L41.25,368.60 L42.25,368.60 L43.25,368.60 L44.25,366.24 L45.25,368.60 L46.25,368.60 L47.25,368.60 L48.25,368.60 L49.25,366.57 L50.25,368.60 L51.25,368.60 L52.25,366.47 L53.25,366.54 L54.25,366.53 L55.25,368.60 L56.25,366.26 L57.25,368.60 L58.25,366.38 L59.25,366.34 L60.25,366.06 L61.25,366.09 L62.25,366.45 L63.25,365.59 L64.25,365.27 L65.25,365.20 L66.25,364.18 L67.25,364.44 L68.25,364.19 L69.25,364.20 L70.25,363.95 L71.25,363.78 L72.25,363.28 L73.25,361.94 L74.25,361.97 L75.25,360.89 L76.25,360.49 L77.25,359.84 L78.25,359.90 L79.25,359.10 L80.25,358.05 L81.25,357.53 L82.25,356.23 L83.25,354.36 L84.25,354.58 L85.25,352.36 L86.25,352.63 L87.25,350.62 L88.25,349.26 L89.25,348.15 L90.25,347.08 L91.25,346.55 L92.25,343.80 L93.25,343.55 L94.25,340.62 L95.25,336.06 L96.25,333.21 L97.25,329.46 L98.25,324.92 L99.25,319.69 L100.25,317.09 L101.25,314.10 L102.25,310.29 L103.25,306.31 L104.25,301.91 L105.25,297.11 L106.25,292.57 L107.25,288.56 L108.25,283.95 L109.25,279.22 L110.25,279.68 L111.25,275.57 L112.25,275.78 L113.25,273.98 L114.25,276.40 L115.25,273.19 L116.25,273.65 L117.25,274.18 L118.25,277.83 L119.25,277.72 L120.25,278.40 L121.25,280.28 L122.25,282.57 L123.25,287.64 L124.25,288.54 L125.25,293.41 L126.25,297.84 L127.25,301.89 L128.25,307.25 L129.25,312.02 L130.25,318.28 L131.25,322.66 L132.25,329.58 L133.25,333.27 L134.25,337.59 L135.25,343.16 L136.25,347.65 L137.25,351.57 L138.25,355.15 L139.25,359.04 L140.25,362.26 L141.25,363.37 L142.25,365.04 L143.25,365.69 L144.25,366.39 L145.25,365.93 L146.25,366.58 L147.25,368.60 L148.25,368.60 L149.25,368.60 L150.25,368.60 L151.25,368.60 L152.25,368.60 L153.25,368.60 L154.25,368.60" fill="none" stroke="#cc1822" stroke-width="2.3" stroke-linejoin="round" stroke-linecap="butt"/>
</g>
<g clip-path="url(#cB12)">
<path d="M158.00,368.60 L159.00,359.01 L160.00,357.70 L161.00,357.22 L162.00,358.25 L163.00,355.51 L164.00,356.46 L165.00,356.15 L166.00,354.95 L167.00,354.43 L168.00,354.86 L169.00,355.36 L170.00,355.61 L171.00,354.27 L172.00,354.06 L173.00,352.04 L174.00,350.68 L175.00,349.05 L176.00,348.24 L177.00,347.82 L178.00,347.06 L179.00,344.19 L180.00,345.01 L181.00,342.46 L182.00,340.09 L183.00,338.52 L184.00,339.30 L185.00,335.49 L186.00,332.68 L187.00,329.91 L188.00,330.02 L189.00,325.58 L190.00,324.02 L191.00,321.63 L192.00,314.90 L193.00,315.21 L194.00,310.11 L195.00,306.47 L196.00,303.26 L197.00,301.83 L198.00,298.76 L199.00,294.22 L200.00,285.73 L201.00,282.38 L202.00,276.96 L203.00,274.97 L204.00,273.62 L205.00,275.49 L206.00,276.34 L207.00,277.17 L208.00,282.82 L209.00,292.63 L210.00,302.14 L211.00,311.53 L212.00,317.89 L213.00,327.02 L214.00,334.91 L215.00,340.23 L216.00,346.89 L217.00,353.48 L218.00,355.33 L219.00,358.77 L220.00,361.89 L221.00,363.39 L222.00,363.97 L223.00,364.89 L224.00,365.59 L225.00,365.65 L226.00,366.23 L227.00,368.60 L228.00,368.60 L229.00,368.60 L230.00,368.60 L231.00,368.60 L232.00,368.60 L233.00,368.60 L234.00,368.60 L235.00,368.60 L236.00,368.60 L237.00,368.60 L238.00,368.60 L239.00,368.60 L240.00,368.60 L241.00,368.60 L242.00,368.60 L243.00,368.60 L244.00,368.60 L245.00,368.60 L246.00,368.60 L247.00,368.60 L248.00,368.60 L249.00,368.60 L250.00,368.60 L251.00,368.60 L252.00,368.60 L253.00,368.60 L254.00,368.60 L255.00,368.60 L256.00,368.60 L257.00,368.60 L258.00,368.60 L259.00,368.60 L260.00,368.60 L261.00,368.60 L262.00,368.60 L263.00,368.60 L264.00,368.60 L265.00,368.60 L266.00,368.60 L267.00,368.60 L268.00,368.60 L269.00,368.60 L270.00,368.60 L271.00,368.60 L272.00,368.60 L273.00,368.60 L274.00,368.60 L275.00,368.60 L276.00,368.60 L277.00,368.60 L278.00,368.60 L279.00,368.60 L280.00,368.60 L281.00,368.60 L282.00,368.60 L282.00,367.40 L158.00,367.40 Z" fill="#dcdcdc" stroke="none"/>
<path d="M158.00,368.60 L159.00,359.01 L160.00,357.70 L161.00,357.22 L162.00,358.25 L163.00,355.51 L164.00,356.46 L165.00,356.15 L166.00,354.95 L167.00,354.43 L168.00,354.86 L169.00,355.36 L170.00,355.61 L171.00,354.27 L172.00,354.06 L173.00,352.04 L174.00,350.68 L175.00,349.05 L176.00,348.24 L177.00,347.82 L178.00,347.06 L179.00,344.19 L180.00,345.01 L181.00,342.46 L182.00,340.09 L183.00,338.52 L184.00,339.30 L185.00,335.49 L186.00,332.68 L187.00,329.91 L188.00,330.02 L189.00,325.58 L190.00,324.02 L191.00,321.63 L192.00,314.90 L193.00,315.21 L194.00,310.11 L195.00,306.47 L196.00,303.26 L197.00,301.83 L198.00,298.76 L199.00,294.22 L200.00,285.73 L201.00,282.38 L202.00,276.96 L203.00,274.97 L204.00,273.62 L205.00,275.49 L206.00,276.34 L207.00,277.17 L208.00,282.82 L209.00,292.63 L210.00,302.14 L211.00,311.53 L212.00,317.89 L213.00,327.02 L214.00,334.91 L215.00,340.23 L216.00,346.89 L217.00,353.48 L218.00,355.33 L219.00,358.77 L220.00,361.89 L221.00,363.39 L222.00,363.97 L223.00,364.89 L224.00,365.59 L225.00,365.65 L226.00,366.23 L227.00,368.60 L228.00,368.60 L229.00,368.60 L230.00,368.60 L231.00,368.60 L232.00,368.60 L233.00,368.60 L234.00,368.60 L235.00,368.60 L236.00,368.60 L237.00,368.60 L238.00,368.60 L239.00,368.60 L240.00,368.60 L241.00,368.60 L242.00,368.60 L243.00,368.60 L244.00,368.60 L245.00,368.60 L246.00,368.60 L247.00,368.60 L248.00,368.60 L249.00,368.60 L250.00,368.60 L251.00,368.60 L252.00,368.60 L253.00,368.60 L254.00,368.60 L255.00,368.60 L256.00,368.60 L257.00,368.60 L258.00,368.60 L259.00,368.60 L260.00,368.60 L261.00,368.60 L262.00,368.60 L263.00,368.60 L264.00,368.60 L265.00,368.60 L266.00,368.60 L267.00,368.60 L268.00,368.60 L269.00,368.60 L270.00,368.60 L271.00,368.60 L272.00,368.60 L273.00,368.60 L274.00,368.60 L275.00,368.60 L276.00,368.60 L277.00,368.60 L278.00,368.60 L279.00,368.60 L280.00,368.60 L281.00,368.60 L282.00,368.60" fill="none" stroke="#777777" stroke-width="2.0" stroke-linejoin="round" stroke-linecap="butt"/>
<path d="M158.00,368.60 L159.00,368.60 L160.00,368.60 L161.00,368.60 L162.00,368.60 L163.00,368.60 L164.00,368.60 L165.00,368.60 L166.00,368.60 L167.00,368.60 L168.00,368.60 L169.00,368.60 L170.00,368.60 L171.00,366.36 L172.00,368.60 L173.00,368.60 L174.00,368.60 L175.00,368.60 L176.00,368.60 L177.00,368.60 L178.00,368.60 L179.00,366.04 L180.00,366.14 L181.00,366.24 L182.00,365.88 L183.00,365.12 L184.00,365.63 L185.00,365.65 L186.00,365.56 L187.00,365.08 L188.00,365.77 L189.00,365.07 L190.00,364.81 L191.00,363.81 L192.00,362.37 L193.00,363.12 L194.00,362.34 L195.00,361.81 L196.00,360.67 L197.00,359.82 L198.00,359.00 L199.00,358.79 L200.00,356.79 L201.00,355.63 L202.00,354.61 L203.00,353.34 L204.00,353.16 L205.00,349.69 L206.00,349.93 L207.00,346.08 L208.00,342.74 L209.00,338.77 L210.00,336.62 L211.00,333.41 L212.00,327.56 L213.00,322.79 L214.00,315.25 L215.00,308.65 L216.00,302.35 L217.00,298.24 L218.00,293.64 L219.00,288.99 L220.00,283.35 L221.00,280.75 L222.00,278.45 L223.00,275.45 L224.00,274.33 L225.00,272.45 L226.00,273.73 L227.00,275.70 L228.00,278.03 L229.00,282.81 L230.00,287.04 L231.00,292.91 L232.00,297.47 L233.00,302.67 L234.00,308.33 L235.00,313.48 L236.00,320.34 L237.00,323.85 L238.00,329.46 L239.00,332.13 L240.00,337.15 L241.00,342.08 L242.00,345.39 L243.00,349.00 L244.00,351.12 L245.00,353.67 L246.00,356.08 L247.00,358.26 L248.00,360.01 L249.00,362.40 L250.00,363.49 L251.00,363.74 L252.00,364.14 L253.00,365.10 L254.00,365.50 L255.00,365.74 L256.00,366.26 L257.00,366.40 L258.00,368.60 L259.00,368.60 L260.00,366.50 L261.00,368.60 L262.00,368.60 L263.00,368.60 L264.00,368.60 L265.00,368.60 L266.00,368.60 L267.00,368.60 L268.00,368.60 L269.00,368.60 L270.00,368.60 L271.00,368.60 L272.00,368.60 L273.00,368.60 L274.00,368.60 L275.00,368.60 L276.00,368.60 L277.00,368.60 L278.00,368.60 L279.00,368.60 L280.00,368.60 L281.00,368.60 L282.00,368.60" fill="none" stroke="#383a8e" stroke-width="2.2" stroke-linejoin="round" stroke-linecap="butt"/>
<path d="M158.00,368.60 L159.00,368.60 L160.00,368.60 L161.00,368.60 L162.00,368.60 L163.00,368.60 L164.00,368.60 L165.00,368.60 L166.00,368.60 L167.00,368.60 L168.00,368.60 L169.00,368.60 L170.00,368.60 L171.00,368.60 L172.00,368.60 L173.00,368.60 L174.00,368.60 L175.00,368.60 L176.00,368.60 L177.00,368.60 L178.00,368.60 L179.00,368.60 L180.00,368.60 L181.00,368.60 L182.00,368.60 L183.00,368.60 L184.00,368.60 L185.00,368.60 L186.00,368.60 L187.00,368.60 L188.00,366.39 L189.00,366.49 L190.00,368.60 L191.00,366.50 L192.00,366.27 L193.00,366.46 L194.00,368.60 L195.00,366.46 L196.00,365.94 L197.00,366.43 L198.00,366.02 L199.00,366.29 L200.00,365.61 L201.00,366.30 L202.00,365.70 L203.00,365.03 L204.00,365.17 L205.00,365.04 L206.00,364.16 L207.00,364.50 L208.00,364.83 L209.00,363.28 L210.00,364.35 L211.00,363.45 L212.00,362.21 L213.00,361.57 L214.00,360.45 L215.00,359.09 L216.00,358.40 L217.00,357.83 L218.00,355.55 L219.00,352.73 L220.00,350.38 L221.00,348.15 L222.00,342.61 L223.00,341.59 L224.00,335.19 L225.00,331.01 L226.00,327.04 L227.00,321.07 L228.00,314.86 L229.00,311.37 L230.00,306.18 L231.00,300.36 L232.00,295.64 L233.00,290.31 L234.00,285.56 L235.00,282.78 L236.00,279.36 L237.00,275.23 L238.00,274.73 L239.00,269.78 L240.00,271.72 L241.00,273.26 L242.00,274.56 L243.00,278.93 L244.00,284.03 L245.00,288.80 L246.00,293.46 L247.00,296.88 L248.00,301.20 L249.00,307.13 L250.00,314.51 L251.00,318.09 L252.00,322.84 L253.00,325.13 L254.00,331.20 L255.00,335.79 L256.00,339.35 L257.00,344.60 L258.00,347.56 L259.00,350.35 L260.00,352.58 L261.00,355.08 L262.00,356.98 L263.00,359.31 L264.00,360.66 L265.00,360.70 L266.00,362.44 L267.00,363.62 L268.00,363.53 L269.00,363.83 L270.00,364.68 L271.00,365.44 L272.00,365.34 L273.00,365.70 L274.00,368.60 L275.00,366.56 L276.00,366.21 L277.00,366.46 L278.00,368.60 L279.00,368.60 L280.00,368.60 L281.00,368.60 L282.00,368.60" fill="none" stroke="#cc1822" stroke-width="2.3" stroke-linejoin="round" stroke-linecap="butt"/>
</g>
<g clip-path="url(#cB13)">
<path d="M286.50,368.60 L287.50,345.99 L288.50,346.15 L289.50,345.22 L290.50,347.17 L291.50,344.59 L292.50,346.56 L293.50,346.13 L294.50,346.05 L295.50,345.47 L296.50,344.61 L297.50,343.35 L298.50,342.70 L299.50,343.01 L300.50,341.09 L301.50,341.49 L302.50,340.05 L303.50,339.59 L304.50,339.87 L305.50,339.27 L306.50,337.14 L307.50,336.48 L308.50,335.22 L309.50,333.73 L310.50,330.79 L311.50,329.24 L312.50,327.65 L313.50,322.41 L314.50,320.22 L315.50,320.02 L316.50,313.57 L317.50,309.64 L318.50,307.06 L319.50,306.18 L320.50,302.42 L321.50,294.47 L322.50,291.84 L323.50,285.29 L324.50,277.65 L325.50,270.23 L326.50,275.16 L327.50,274.69 L328.50,276.62 L329.50,275.97 L330.50,284.72 L331.50,288.85 L332.50,292.20 L333.50,300.92 L334.50,309.67 L335.50,314.18 L336.50,322.36 L337.50,330.49 L338.50,337.88 L339.50,346.95 L340.50,352.39 L341.50,357.63 L342.50,359.64 L343.50,362.45 L344.50,363.33 L345.50,364.55 L346.50,364.65 L347.50,365.45 L348.50,365.57 L349.50,365.59 L350.50,366.59 L351.50,368.60 L352.50,368.60 L353.50,366.40 L354.50,366.41 L355.50,365.84 L356.50,365.01 L357.50,365.93 L358.50,368.60 L359.50,366.09 L360.50,365.90 L361.50,368.60 L362.50,368.60 L363.50,368.60 L364.50,368.60 L365.50,368.60 L366.50,368.60 L367.50,366.59 L368.50,368.60 L369.50,368.60 L370.50,368.60 L371.50,368.60 L372.50,368.60 L373.50,368.60 L374.50,368.60 L375.50,368.60 L376.50,368.60 L377.50,368.60 L378.50,368.60 L379.50,368.60 L380.50,368.60 L381.50,368.60 L382.50,368.60 L383.50,368.60 L384.50,368.60 L385.50,368.60 L386.50,368.60 L387.50,368.60 L388.50,368.60 L389.50,368.60 L390.50,368.60 L391.50,368.60 L392.50,368.60 L393.50,368.60 L394.50,368.60 L395.50,368.60 L396.50,368.60 L397.50,368.60 L398.50,368.60 L399.50,368.60 L400.50,368.60 L401.50,368.60 L402.50,368.60 L403.50,368.60 L404.50,368.60 L405.50,368.60 L406.50,368.60 L407.50,368.60 L408.50,368.60 L409.50,368.60 L410.50,368.60 L410.50,367.40 L286.50,367.40 Z" fill="#dcdcdc" stroke="none"/>
<path d="M286.50,368.60 L287.50,345.99 L288.50,346.15 L289.50,345.22 L290.50,347.17 L291.50,344.59 L292.50,346.56 L293.50,346.13 L294.50,346.05 L295.50,345.47 L296.50,344.61 L297.50,343.35 L298.50,342.70 L299.50,343.01 L300.50,341.09 L301.50,341.49 L302.50,340.05 L303.50,339.59 L304.50,339.87 L305.50,339.27 L306.50,337.14 L307.50,336.48 L308.50,335.22 L309.50,333.73 L310.50,330.79 L311.50,329.24 L312.50,327.65 L313.50,322.41 L314.50,320.22 L315.50,320.02 L316.50,313.57 L317.50,309.64 L318.50,307.06 L319.50,306.18 L320.50,302.42 L321.50,294.47 L322.50,291.84 L323.50,285.29 L324.50,277.65 L325.50,270.23 L326.50,275.16 L327.50,274.69 L328.50,276.62 L329.50,275.97 L330.50,284.72 L331.50,288.85 L332.50,292.20 L333.50,300.92 L334.50,309.67 L335.50,314.18 L336.50,322.36 L337.50,330.49 L338.50,337.88 L339.50,346.95 L340.50,352.39 L341.50,357.63 L342.50,359.64 L343.50,362.45 L344.50,363.33 L345.50,364.55 L346.50,364.65 L347.50,365.45 L348.50,365.57 L349.50,365.59 L350.50,366.59 L351.50,368.60 L352.50,368.60 L353.50,366.40 L354.50,366.41 L355.50,365.84 L356.50,365.01 L357.50,365.93 L358.50,368.60 L359.50,366.09 L360.50,365.90 L361.50,368.60 L362.50,368.60 L363.50,368.60 L364.50,368.60 L365.50,368.60 L366.50,368.60 L367.50,366.59 L368.50,368.60 L369.50,368.60 L370.50,368.60 L371.50,368.60 L372.50,368.60 L373.50,368.60 L374.50,368.60 L375.50,368.60 L376.50,368.60 L377.50,368.60 L378.50,368.60 L379.50,368.60 L380.50,368.60 L381.50,368.60 L382.50,368.60 L383.50,368.60 L384.50,368.60 L385.50,368.60 L386.50,368.60 L387.50,368.60 L388.50,368.60 L389.50,368.60 L390.50,368.60 L391.50,368.60 L392.50,368.60 L393.50,368.60 L394.50,368.60 L395.50,368.60 L396.50,368.60 L397.50,368.60 L398.50,368.60 L399.50,368.60 L400.50,368.60 L401.50,368.60 L402.50,368.60 L403.50,368.60 L404.50,368.60 L405.50,368.60 L406.50,368.60 L407.50,368.60 L408.50,368.60 L409.50,368.60 L410.50,368.60" fill="none" stroke="#777777" stroke-width="2.0" stroke-linejoin="round" stroke-linecap="butt"/>
<path d="M286.50,368.60 L287.50,363.41 L288.50,364.30 L289.50,363.91 L290.50,364.20 L291.50,364.92 L292.50,365.58 L293.50,365.31 L294.50,365.26 L295.50,364.77 L296.50,364.40 L297.50,364.72 L298.50,364.96 L299.50,364.83 L300.50,364.52 L301.50,364.62 L302.50,364.41 L303.50,363.41 L304.50,363.03 L305.50,362.51 L306.50,363.62 L307.50,362.72 L308.50,361.85 L309.50,362.11 L310.50,361.12 L311.50,360.43 L312.50,360.27 L313.50,359.55 L314.50,360.78 L315.50,357.49 L316.50,355.22 L317.50,356.29 L318.50,354.61 L319.50,353.53 L320.50,354.45 L321.50,352.52 L322.50,351.02 L323.50,350.45 L324.50,348.33 L325.50,347.78 L326.50,344.68 L327.50,343.35 L328.50,342.10 L329.50,339.21 L330.50,331.50 L331.50,329.09 L332.50,325.95 L333.50,323.75 L334.50,319.16 L335.50,316.14 L336.50,315.56 L337.50,312.04 L338.50,307.34 L339.50,302.44 L340.50,300.98 L341.50,297.30 L342.50,297.70 L343.50,293.57 L344.50,292.10 L345.50,290.57 L346.50,288.17 L347.50,284.53 L348.50,284.62 L349.50,280.43 L350.50,274.75 L351.50,277.52 L352.50,276.08 L353.50,277.25 L354.50,284.33 L355.50,283.34 L356.50,286.08 L357.50,290.07 L358.50,293.90 L359.50,300.95 L360.50,303.40 L361.50,305.77 L362.50,311.94 L363.50,320.12 L364.50,318.43 L365.50,318.87 L366.50,329.24 L367.50,334.57 L368.50,341.41 L369.50,348.03 L370.50,352.56 L371.50,355.61 L372.50,358.18 L373.50,360.73 L374.50,363.46 L375.50,364.44 L376.50,364.49 L377.50,365.74 L378.50,366.27 L379.50,366.54 L380.50,368.60 L381.50,368.60 L382.50,368.60 L383.50,368.60 L384.50,366.48 L385.50,368.60 L386.50,368.60 L387.50,368.60 L388.50,368.60 L389.50,368.60 L390.50,368.60 L391.50,368.60 L392.50,368.60 L393.50,368.60 L394.50,368.60 L395.50,368.60 L396.50,368.60 L397.50,368.60 L398.50,368.60 L399.50,368.60 L400.50,368.60 L401.50,368.60 L402.50,368.60 L403.50,368.60 L404.50,368.60 L405.50,368.60 L406.50,368.60 L407.50,368.60 L408.50,368.60 L409.50,368.60 L410.50,368.60" fill="none" stroke="#383a8e" stroke-width="2.2" stroke-linejoin="round" stroke-linecap="butt"/>
<path d="M286.50,366.45 L287.50,364.94 L288.50,364.75 L289.50,365.09 L290.50,364.73 L291.50,365.59 L292.50,365.02 L293.50,364.61 L294.50,364.16 L295.50,364.15 L296.50,364.57 L297.50,364.16 L298.50,364.32 L299.50,363.49 L300.50,363.73 L301.50,363.30 L302.50,363.82 L303.50,363.20 L304.50,362.56 L305.50,362.93 L306.50,362.89 L307.50,362.97 L308.50,362.55 L309.50,361.94 L310.50,361.53 L311.50,361.60 L312.50,360.93 L313.50,360.17 L314.50,359.49 L315.50,357.86 L316.50,358.31 L317.50,357.67 L318.50,356.97 L319.50,356.74 L320.50,356.07 L321.50,355.62 L322.50,355.20 L323.50,354.30 L324.50,353.87 L325.50,353.29 L326.50,351.01 L327.50,351.02 L328.50,349.37 L329.50,350.29 L330.50,349.17 L331.50,348.06 L332.50,345.46 L333.50,341.38 L334.50,339.45 L335.50,336.57 L336.50,331.19 L337.50,331.25 L338.50,329.23 L339.50,324.96 L340.50,323.08 L341.50,318.59 L342.50,315.58 L343.50,313.51 L344.50,312.54 L345.50,309.33 L346.50,307.59 L347.50,305.02 L348.50,304.72 L349.50,299.45 L350.50,298.26 L351.50,297.34 L352.50,294.14 L353.50,289.16 L354.50,290.26 L355.50,287.06 L356.50,282.82 L357.50,279.22 L358.50,274.75 L359.50,273.54 L360.50,281.83 L361.50,285.44 L362.50,289.18 L363.50,293.36 L364.50,297.07 L365.50,299.04 L366.50,302.18 L367.50,306.51 L368.50,308.11 L369.50,300.13 L370.50,296.86 L371.50,300.79 L372.50,312.05 L373.50,321.50 L374.50,332.44 L375.50,339.19 L376.50,346.11 L377.50,350.34 L378.50,353.01 L379.50,355.64 L380.50,359.33 L381.50,361.28 L382.50,362.57 L383.50,363.32 L384.50,365.62 L385.50,365.79 L386.50,365.98 L387.50,368.60 L388.50,366.40 L389.50,368.60 L390.50,366.27 L391.50,368.60 L392.50,368.60 L393.50,368.60 L394.50,368.60 L395.50,368.60 L396.50,368.60 L397.50,368.60 L398.50,368.60 L399.50,368.60 L400.50,368.60 L401.50,368.60 L402.50,368.60 L403.50,368.60 L404.50,368.60 L405.50,368.60 L406.50,368.60 L407.50,368.60 L408.50,368.60 L409.50,368.60 L410.50,368.60" fill="none" stroke="#cc1822" stroke-width="2.3" stroke-linejoin="round" stroke-linecap="butt"/>
</g>
<g clip-path="url(#cB21)">
<path d="M33.50,506.10 L34.50,490.69 L35.50,491.92 L36.50,494.12 L37.50,495.48 L38.50,494.99 L39.50,494.84 L40.50,491.51 L41.50,490.99 L42.50,488.29 L43.50,488.44 L44.50,487.95 L45.50,486.72 L46.50,483.81 L47.50,485.23 L48.50,483.72 L49.50,483.23 L50.50,484.19 L51.50,483.89 L52.50,484.55 L53.50,482.63 L54.50,482.94 L55.50,480.50 L56.50,481.88 L57.50,479.80 L58.50,478.18 L59.50,473.57 L60.50,468.98 L61.50,465.47 L62.50,462.57 L63.50,460.70 L64.50,456.40 L65.50,452.93 L66.50,447.15 L67.50,443.92 L68.50,442.41 L69.50,441.40 L70.50,436.73 L71.50,431.96 L72.50,430.46 L73.50,426.23 L74.50,426.25 L75.50,421.99 L76.50,419.79 L77.50,417.65 L78.50,416.74 L79.50,416.46 L80.50,422.42 L81.50,422.91 L82.50,414.64 L83.50,408.47 L84.50,427.42 L85.50,442.77 L86.50,450.69 L87.50,459.00 L88.50,469.09 L89.50,476.73 L90.50,480.93 L91.50,486.78 L92.50,490.80 L93.50,494.82 L94.50,497.79 L95.50,501.13 L96.50,502.02 L97.50,502.76 L98.50,503.27 L99.50,503.95 L100.50,503.72 L101.50,506.10 L102.50,504.02 L103.50,506.10 L104.50,503.78 L105.50,504.06 L106.50,503.32 L107.50,503.70 L108.50,503.69 L109.50,506.10 L110.50,506.10 L111.50,506.10 L112.50,503.81 L113.50,503.72 L114.50,503.46 L115.50,504.00 L116.50,503.77 L117.50,506.10 L118.50,506.10 L119.50,506.10 L120.50,506.10 L121.50,506.10 L122.50,503.97 L123.50,504.04 L124.50,506.10 L125.50,503.83 L126.50,506.10 L127.50,503.57 L128.50,506.10 L129.50,506.10 L130.50,506.10 L131.50,503.89 L132.50,506.10 L133.50,503.93 L134.50,503.93 L135.50,503.87 L136.50,503.99 L137.50,506.10 L138.50,506.10 L139.50,503.39 L140.50,506.10 L141.50,506.10 L142.50,506.10 L143.50,506.10 L144.50,506.10 L145.50,506.10 L146.50,506.10 L147.50,506.10 L148.50,506.10 L149.50,506.10 L150.50,506.10 L151.50,506.10 L152.50,506.10 L153.50,503.52 L154.50,506.10 L155.50,506.10 L156.50,506.10 L157.50,506.10 L158.50,506.10 L159.50,506.10 L159.50,504.90 L33.50,504.90 Z" fill="#dcdcdc" stroke="none"/>
<path d="M33.50,506.10 L34.50,490.69 L35.50,491.92 L36.50,494.12 L37.50,495.48 L38.50,494.99 L39.50,494.84 L40.50,491.51 L41.50,490.99 L42.50,488.29 L43.50,488.44 L44.50,487.95 L45.50,486.72 L46.50,483.81 L47.50,485.23 L48.50,483.72 L49.50,483.23 L50.50,484.19 L51.50,483.89 L52.50,484.55 L53.50,482.63 L54.50,482.94 L55.50,480.50 L56.50,481.88 L57.50,479.80 L58.50,478.18 L59.50,473.57 L60.50,468.98 L61.50,465.47 L62.50,462.57 L63.50,460.70 L64.50,456.40 L65.50,452.93 L66.50,447.15 L67.50,443.92 L68.50,442.41 L69.50,441.40 L70.50,436.73 L71.50,431.96 L72.50,430.46 L73.50,426.23 L74.50,426.25 L75.50,421.99 L76.50,419.79 L77.50,417.65 L78.50,416.74 L79.50,416.46 L80.50,422.42 L81.50,422.91 L82.50,414.64 L83.50,408.47 L84.50,427.42 L85.50,442.77 L86.50,450.69 L87.50,459.00 L88.50,469.09 L89.50,476.73 L90.50,480.93 L91.50,486.78 L92.50,490.80 L93.50,494.82 L94.50,497.79 L95.50,501.13 L96.50,502.02 L97.50,502.76 L98.50,503.27 L99.50,503.95 L100.50,503.72 L101.50,506.10 L102.50,504.02 L103.50,506.10 L104.50,503.78 L105.50,504.06 L106.50,503.32 L107.50,503.70 L108.50,503.69 L109.50,506.10 L110.50,506.10 L111.50,506.10 L112.50,503.81 L113.50,503.72 L114.50,503.46 L115.50,504.00 L116.50,503.77 L117.50,506.10 L118.50,506.10 L119.50,506.10 L120.50,506.10 L121.50,506.10 L122.50,503.97 L123.50,504.04 L124.50,506.10 L125.50,503.83 L126.50,506.10 L127.50,503.57 L128.50,506.10 L129.50,506.10 L130.50,506.10 L131.50,503.89 L132.50,506.10 L133.50,503.93 L134.50,503.93 L135.50,503.87 L136.50,503.99 L137.50,506.10 L138.50,506.10 L139.50,503.39 L140.50,506.10 L141.50,506.10 L142.50,506.10 L143.50,506.10 L144.50,506.10 L145.50,506.10 L146.50,506.10 L147.50,506.10 L148.50,506.10 L149.50,506.10 L150.50,506.10 L151.50,506.10 L152.50,506.10 L153.50,503.52 L154.50,506.10 L155.50,506.10 L156.50,506.10 L157.50,506.10 L158.50,506.10 L159.50,506.10" fill="none" stroke="#777777" stroke-width="2.0" stroke-linejoin="round" stroke-linecap="butt"/>
<path d="M34.30,506.10 L35.30,506.10 L36.30,506.10 L37.30,506.10 L38.30,506.10 L39.30,506.10 L40.30,506.10 L41.30,506.10 L42.30,506.10 L43.30,506.10 L44.30,506.10 L45.30,503.35 L46.30,504.09 L47.30,503.65 L48.30,503.62 L49.30,503.80 L50.30,503.24 L51.30,506.10 L52.30,503.60 L53.30,506.10 L54.30,506.10 L55.30,503.46 L56.30,503.82 L57.30,503.43 L58.30,503.25 L59.30,503.63 L60.30,503.75 L61.30,503.76 L62.30,503.21 L63.30,502.61 L64.30,501.73 L65.30,501.82 L66.30,500.98 L67.30,500.16 L68.30,499.71 L69.30,499.22 L70.30,498.82 L71.30,498.74 L72.30,497.79 L73.30,496.73 L74.30,496.47 L75.30,495.38 L76.30,494.43 L77.30,494.24 L78.30,493.71 L79.30,491.45 L80.30,490.35 L81.30,488.60 L82.30,486.93 L83.30,484.14 L84.30,482.62 L85.30,480.98 L86.30,476.12 L87.30,473.92 L88.30,469.67 L89.30,465.80 L90.30,463.29 L91.30,458.76 L92.30,455.78 L93.30,450.97 L94.30,445.67 L95.30,441.35 L96.30,435.99 L97.30,433.46 L98.30,425.72 L99.30,422.26 L100.30,417.87 L101.30,416.33 L102.30,414.54 L103.30,412.73 L104.30,415.64 L105.30,413.01 L106.30,410.30 L107.30,412.53 L108.30,415.67 L109.30,419.04 L110.30,422.47 L111.30,425.66 L112.30,430.79 L113.30,435.47 L114.30,440.77 L115.30,445.27 L116.30,450.74 L117.30,454.81 L118.30,458.81 L119.30,463.73 L120.30,470.54 L121.30,473.10 L122.30,477.50 L123.30,480.79 L124.30,484.57 L125.30,488.56 L126.30,491.56 L127.30,494.66 L128.30,495.23 L129.30,497.00 L130.30,499.09 L131.30,499.60 L132.30,501.85 L133.30,502.11 L134.30,502.81 L135.30,503.01 L136.30,504.10 L137.30,503.83 L138.30,503.28 L139.30,503.17 L140.30,506.10 L141.30,506.10 L142.30,506.10 L143.30,506.10 L144.30,506.10 L145.30,503.96 L146.30,506.10 L147.30,503.81 L148.30,503.78 L149.30,506.10 L150.30,506.10 L151.30,506.10 L152.30,506.10 L153.30,506.10 L154.30,506.10 L155.30,506.10 L156.30,506.10 L157.30,506.10 L158.30,506.10 L159.30,506.10 L160.30,506.10" fill="none" stroke="#383a8e" stroke-width="2.2" stroke-linejoin="round" stroke-linecap="butt"/>
<path d="M33.50,503.64 L34.50,504.01 L35.50,503.45 L36.50,506.10 L37.50,503.71 L38.50,504.00 L39.50,506.10 L40.50,506.10 L41.50,503.98 L42.50,506.10 L43.50,506.10 L44.50,504.09 L45.50,503.88 L46.50,503.71 L47.50,506.10 L48.50,503.85 L49.50,503.88 L50.50,503.40 L51.50,503.76 L52.50,506.10 L53.50,503.15 L54.50,503.53 L55.50,503.20 L56.50,503.56 L57.50,503.81 L58.50,503.63 L59.50,502.43 L60.50,502.85 L61.50,501.87 L62.50,501.84 L63.50,502.14 L64.50,502.14 L65.50,501.67 L66.50,501.39 L67.50,500.98 L68.50,500.04 L69.50,499.97 L70.50,498.55 L71.50,498.31 L72.50,497.97 L73.50,496.68 L74.50,495.48 L75.50,494.35 L76.50,493.96 L77.50,493.05 L78.50,490.97 L79.50,489.80 L80.50,487.34 L81.50,486.61 L82.50,485.01 L83.50,481.93 L84.50,481.69 L85.50,477.36 L86.50,474.33 L87.50,469.75 L88.50,466.82 L89.50,462.51 L90.50,459.60 L91.50,454.58 L92.50,449.33 L93.50,446.52 L94.50,442.15 L95.50,437.71 L96.50,435.22 L97.50,426.78 L98.50,423.59 L99.50,418.11 L100.50,417.22 L101.50,413.83 L102.50,413.60 L103.50,413.49 L104.50,413.09 L105.50,412.78 L106.50,413.39 L107.50,417.76 L108.50,420.73 L109.50,423.90 L110.50,427.47 L111.50,431.79 L112.50,438.58 L113.50,442.09 L114.50,446.77 L115.50,450.70 L116.50,454.13 L117.50,459.29 L118.50,464.03 L119.50,469.54 L120.50,474.04 L121.50,477.30 L122.50,480.54 L123.50,485.44 L124.50,488.77 L125.50,490.00 L126.50,492.89 L127.50,496.86 L128.50,497.31 L129.50,498.19 L130.50,501.93 L131.50,502.42 L132.50,503.18 L133.50,503.33 L134.50,503.16 L135.50,503.56 L136.50,503.08 L137.50,503.89 L138.50,504.03 L139.50,506.10 L140.50,504.04 L141.50,506.10 L142.50,506.10 L143.50,506.10 L144.50,506.10 L145.50,506.10 L146.50,504.10 L147.50,506.10 L148.50,506.10 L149.50,506.10 L150.50,506.10 L151.50,506.10 L152.50,506.10 L153.50,506.10 L154.50,506.10 L155.50,506.10 L156.50,506.10 L157.50,506.10 L158.50,506.10 L159.50,504.06" fill="none" stroke="#cc1822" stroke-width="2.3" stroke-linejoin="round" stroke-linecap="butt"/>
</g>
<g clip-path="url(#cB22)">
<path d="M161.25,506.10 L162.25,475.22 L163.25,473.27 L164.25,471.56 L165.25,473.35 L166.25,474.49 L167.25,474.04 L168.25,472.61 L169.25,473.56 L170.25,472.19 L171.25,468.83 L172.25,468.81 L173.25,470.69 L174.25,470.67 L175.25,470.35 L176.25,469.58 L177.25,469.21 L178.25,466.14 L179.25,464.28 L180.25,463.45 L181.25,462.61 L182.25,460.26 L183.25,459.11 L184.25,458.56 L185.25,455.17 L186.25,452.53 L187.25,448.01 L188.25,444.40 L189.25,442.14 L190.25,440.51 L191.25,436.56 L192.25,436.28 L193.25,433.04 L194.25,431.43 L195.25,428.08 L196.25,425.68 L197.25,423.94 L198.25,418.25 L199.25,415.66 L200.25,410.58 L201.25,415.44 L202.25,414.68 L203.25,411.69 L204.25,413.80 L205.25,418.69 L206.25,428.09 L207.25,432.89 L208.25,440.80 L209.25,448.59 L210.25,456.87 L211.25,463.30 L212.25,469.74 L213.25,476.89 L214.25,480.96 L215.25,484.87 L216.25,490.66 L217.25,495.12 L218.25,496.70 L219.25,499.88 L220.25,500.63 L221.25,501.07 L222.25,502.35 L223.25,501.97 L224.25,502.73 L225.25,502.88 L226.25,503.67 L227.25,503.18 L228.25,503.18 L229.25,503.84 L230.25,503.46 L231.25,503.37 L232.25,503.63 L233.25,506.10 L234.25,506.10 L235.25,506.10 L236.25,506.10 L237.25,506.10 L238.25,506.10 L239.25,506.10 L240.25,506.10 L241.25,506.10 L242.25,506.10 L243.25,506.10 L244.25,506.10 L245.25,506.10 L246.25,506.10 L247.25,503.69 L248.25,506.10 L249.25,506.10 L250.25,506.10 L251.25,506.10 L252.25,506.10 L253.25,506.10 L254.25,506.10 L255.25,506.10 L256.25,506.10 L257.25,504.10 L258.25,506.10 L259.25,506.10 L260.25,506.10 L261.25,506.10 L262.25,506.10 L263.25,506.10 L264.25,506.10 L265.25,506.10 L266.25,506.10 L267.25,506.10 L268.25,506.10 L269.25,506.10 L270.25,506.10 L271.25,506.10 L272.25,506.10 L273.25,506.10 L274.25,504.03 L275.25,506.10 L276.25,503.76 L277.25,506.10 L278.25,506.10 L279.25,506.10 L280.25,506.10 L281.25,506.10 L282.25,506.10 L283.25,506.10 L284.25,506.10 L285.25,506.10 L285.25,504.90 L161.25,504.90 Z" fill="#dcdcdc" stroke="none"/>
<path d="M161.25,506.10 L162.25,475.22 L163.25,473.27 L164.25,471.56 L165.25,473.35 L166.25,474.49 L167.25,474.04 L168.25,472.61 L169.25,473.56 L170.25,472.19 L171.25,468.83 L172.25,468.81 L173.25,470.69 L174.25,470.67 L175.25,470.35 L176.25,469.58 L177.25,469.21 L178.25,466.14 L179.25,464.28 L180.25,463.45 L181.25,462.61 L182.25,460.26 L183.25,459.11 L184.25,458.56 L185.25,455.17 L186.25,452.53 L187.25,448.01 L188.25,444.40 L189.25,442.14 L190.25,440.51 L191.25,436.56 L192.25,436.28 L193.25,433.04 L194.25,431.43 L195.25,428.08 L196.25,425.68 L197.25,423.94 L198.25,418.25 L199.25,415.66 L200.25,410.58 L201.25,415.44 L202.25,414.68 L203.25,411.69 L204.25,413.80 L205.25,418.69 L206.25,428.09 L207.25,432.89 L208.25,440.80 L209.25,448.59 L210.25,456.87 L211.25,463.30 L212.25,469.74 L213.25,476.89 L214.25,480.96 L215.25,484.87 L216.25,490.66 L217.25,495.12 L218.25,496.70 L219.25,499.88 L220.25,500.63 L221.25,501.07 L222.25,502.35 L223.25,501.97 L224.25,502.73 L225.25,502.88 L226.25,503.67 L227.25,503.18 L228.25,503.18 L229.25,503.84 L230.25,503.46 L231.25,503.37 L232.25,503.63 L233.25,506.10 L234.25,506.10 L235.25,506.10 L236.25,506.10 L237.25,506.10 L238.25,506.10 L239.25,506.10 L240.25,506.10 L241.25,506.10 L242.25,506.10 L243.25,506.10 L244.25,506.10 L245.25,506.10 L246.25,506.10 L247.25,503.69 L248.25,506.10 L249.25,506.10 L250.25,506.10 L251.25,506.10 L252.25,506.10 L253.25,506.10 L254.25,506.10 L255.25,506.10 L256.25,506.10 L257.25,504.10 L258.25,506.10 L259.25,506.10 L260.25,506.10 L261.25,506.10 L262.25,506.10 L263.25,506.10 L264.25,506.10 L265.25,506.10 L266.25,506.10 L267.25,506.10 L268.25,506.10 L269.25,506.10 L270.25,506.10 L271.25,506.10 L272.25,506.10 L273.25,506.10 L274.25,504.03 L275.25,506.10 L276.25,503.76 L277.25,506.10 L278.25,506.10 L279.25,506.10 L280.25,506.10 L281.25,506.10 L282.25,506.10 L283.25,506.10 L284.25,506.10 L285.25,506.10" fill="none" stroke="#777777" stroke-width="2.0" stroke-linejoin="round" stroke-linecap="butt"/>
<path d="M163.50,503.55 L164.50,502.34 L165.50,503.21 L166.50,503.85 L167.50,502.80 L168.50,503.17 L169.50,503.80 L170.50,502.70 L171.50,503.39 L172.50,503.88 L173.50,503.24 L174.50,503.35 L175.50,503.02 L176.50,502.82 L177.50,503.15 L178.50,502.59 L179.50,503.50 L180.50,502.84 L181.50,502.23 L182.50,502.68 L183.50,502.17 L184.50,501.39 L185.50,500.96 L186.50,501.10 L187.50,499.87 L188.50,499.55 L189.50,500.24 L190.50,499.74 L191.50,499.85 L192.50,499.17 L193.50,499.41 L194.50,497.83 L195.50,497.73 L196.50,496.82 L197.50,496.12 L198.50,496.03 L199.50,494.05 L200.50,493.49 L201.50,493.41 L202.50,491.64 L203.50,489.71 L204.50,486.40 L205.50,486.87 L206.50,484.08 L207.50,481.90 L208.50,477.59 L209.50,475.48 L210.50,469.50 L211.50,467.75 L212.50,463.22 L213.50,458.60 L214.50,453.10 L215.50,449.66 L216.50,444.27 L217.50,437.27 L218.50,433.44 L219.50,427.93 L220.50,422.89 L221.50,422.68 L222.50,417.75 L223.50,414.93 L224.50,412.10 L225.50,410.92 L226.50,412.66 L227.50,415.97 L228.50,415.43 L229.50,417.17 L230.50,419.80 L231.50,424.22 L232.50,429.76 L233.50,432.41 L234.50,437.63 L235.50,444.75 L236.50,449.49 L237.50,453.58 L238.50,459.04 L239.50,463.82 L240.50,469.30 L241.50,474.10 L242.50,480.87 L243.50,485.03 L244.50,486.39 L245.50,489.78 L246.50,493.46 L247.50,496.00 L248.50,498.74 L249.50,499.70 L250.50,501.22 L251.50,500.76 L252.50,502.26 L253.50,502.61 L254.50,502.34 L255.50,502.72 L256.50,503.49 L257.50,503.41 L258.50,503.66 L259.50,502.99 L260.50,506.10 L261.50,506.10 L262.50,506.10 L263.50,503.95 L264.50,503.51 L265.50,503.98 L266.50,503.93 L267.50,506.10 L268.50,503.18 L269.50,503.86 L270.50,506.10 L271.50,503.71 L272.50,503.78 L273.50,506.10 L274.50,506.10 L275.50,503.95 L276.50,506.10 L277.50,506.10 L278.50,503.94 L279.50,503.87 L280.50,503.73 L281.50,504.09 L282.50,503.85 L283.50,506.10 L284.50,506.10 L285.50,506.10" fill="none" stroke="#383a8e" stroke-width="2.2" stroke-linejoin="round" stroke-linecap="butt"/>
<path d="M161.25,506.10 L162.25,498.80 L163.25,503.08 L164.25,502.94 L165.25,503.15 L166.25,503.34 L167.25,503.36 L168.25,503.46 L169.25,503.07 L170.25,503.24 L171.25,503.19 L172.25,503.15 L173.25,502.73 L174.25,503.77 L175.25,503.13 L176.25,503.00 L177.25,502.88 L178.25,502.71 L179.25,502.27 L180.25,502.89 L181.25,502.88 L182.25,501.95 L183.25,502.15 L184.25,501.97 L185.25,502.13 L186.25,501.12 L187.25,501.38 L188.25,500.38 L189.25,499.76 L190.25,499.11 L191.25,499.52 L192.25,499.12 L193.25,498.74 L194.25,497.57 L195.25,497.31 L196.25,496.17 L197.25,495.32 L198.25,494.27 L199.25,493.25 L200.25,491.07 L201.25,490.06 L202.25,490.16 L203.25,488.40 L204.25,488.06 L205.25,485.62 L206.25,483.01 L207.25,480.79 L208.25,477.76 L209.25,475.81 L210.25,469.77 L211.25,463.64 L212.25,461.07 L213.25,455.85 L214.25,451.70 L215.25,447.12 L216.25,441.17 L217.25,440.00 L218.25,432.66 L219.25,426.85 L220.25,424.00 L221.25,419.67 L222.25,418.91 L223.25,415.48 L224.25,415.37 L225.25,411.98 L226.25,414.57 L227.25,417.53 L228.25,415.11 L229.25,417.70 L230.25,422.87 L231.25,424.13 L232.25,425.92 L233.25,431.90 L234.25,440.55 L235.25,447.14 L236.25,450.79 L237.25,455.08 L238.25,460.76 L239.25,465.26 L240.25,469.87 L241.25,476.95 L242.25,480.95 L243.25,485.22 L244.25,487.85 L245.25,492.89 L246.25,493.47 L247.25,496.78 L248.25,498.39 L249.25,499.14 L250.25,500.70 L251.25,501.81 L252.25,502.45 L253.25,503.29 L254.25,503.06 L255.25,506.10 L256.25,503.74 L257.25,503.20 L258.25,503.45 L259.25,503.00 L260.25,503.18 L261.25,503.86 L262.25,503.94 L263.25,503.98 L264.25,506.10 L265.25,506.10 L266.25,504.01 L267.25,506.10 L268.25,504.00 L269.25,503.83 L270.25,504.05 L271.25,506.10 L272.25,506.10 L273.25,504.06 L274.25,506.10 L275.25,506.10 L276.25,506.10 L277.25,506.10 L278.25,506.10 L279.25,506.10 L280.25,503.83 L281.25,506.10 L282.25,506.10 L283.25,506.10 L284.25,506.10 L285.25,506.10" fill="none" stroke="#cc1822" stroke-width="2.3" stroke-linejoin="round" stroke-linecap="butt"/>
</g>
<path d="M31.3,367.7 L31.3,266.0 L413.0,266.0 L413.0,367.7 M157.7,266.0 L157.7,367.7 M286.3,266.0 L286.3,367.7 M31.3,367.7 L413.0,367.7" fill="none" stroke="#000" stroke-width="1.5"/>
<path d="M33.2,505.2 L33.2,402.6 L286.8,402.6 L286.8,505.2 M161.0,402.6 L161.0,505.2 M33.2,505.2 L286.8,505.2" fill="none" stroke="#000" stroke-width="1.5"/>
<line x1="27.80" y1="367.50" x2="31.30" y2="367.50" stroke="#000" stroke-width="1.0" />
<text x="27.10" y="370.13" font-size="7.3" text-anchor="end" font-weight="bold" font-style="normal" fill="#000" >0</text>
<line x1="27.80" y1="348.80" x2="31.30" y2="348.80" stroke="#000" stroke-width="1.0" />
<text x="27.10" y="351.43" font-size="7.3" text-anchor="end" font-weight="bold" font-style="normal" fill="#000" >20</text>
<line x1="27.80" y1="330.10" x2="31.30" y2="330.10" stroke="#000" stroke-width="1.0" />
<text x="27.10" y="332.73" font-size="7.3" text-anchor="end" font-weight="bold" font-style="normal" fill="#000" >40</text>
<line x1="27.80" y1="311.40" x2="31.30" y2="311.40" stroke="#000" stroke-width="1.0" />
<text x="27.10" y="314.03" font-size="7.3" text-anchor="end" font-weight="bold" font-style="normal" fill="#000" >60</text>
<line x1="27.80" y1="292.70" x2="31.30" y2="292.70" stroke="#000" stroke-width="1.0" />
<text x="27.10" y="295.33" font-size="7.3" text-anchor="end" font-weight="bold" font-style="normal" fill="#000" >80</text>
<line x1="27.80" y1="274.00" x2="31.30" y2="274.00" stroke="#000" stroke-width="1.0" />
<text x="27.10" y="276.63" font-size="7.3" text-anchor="end" font-weight="bold" font-style="normal" fill="#000" >100</text>
<line x1="29.50" y1="362.82" x2="31.30" y2="362.82" stroke="#000" stroke-width="0.8" />
<line x1="29.50" y1="358.15" x2="31.30" y2="358.15" stroke="#000" stroke-width="0.8" />
<line x1="29.50" y1="353.48" x2="31.30" y2="353.48" stroke="#000" stroke-width="0.8" />
<line x1="29.50" y1="344.12" x2="31.30" y2="344.12" stroke="#000" stroke-width="0.8" />
<line x1="29.50" y1="339.45" x2="31.30" y2="339.45" stroke="#000" stroke-width="0.8" />
<line x1="29.50" y1="334.77" x2="31.30" y2="334.77" stroke="#000" stroke-width="0.8" />
<line x1="29.50" y1="325.43" x2="31.30" y2="325.43" stroke="#000" stroke-width="0.8" />
<line x1="29.50" y1="320.75" x2="31.30" y2="320.75" stroke="#000" stroke-width="0.8" />
<line x1="29.50" y1="316.07" x2="31.30" y2="316.07" stroke="#000" stroke-width="0.8" />
<line x1="29.50" y1="306.73" x2="31.30" y2="306.73" stroke="#000" stroke-width="0.8" />
<line x1="29.50" y1="302.05" x2="31.30" y2="302.05" stroke="#000" stroke-width="0.8" />
<line x1="29.50" y1="297.38" x2="31.30" y2="297.38" stroke="#000" stroke-width="0.8" />
<line x1="29.50" y1="288.02" x2="31.30" y2="288.02" stroke="#000" stroke-width="0.8" />
<line x1="29.50" y1="283.35" x2="31.30" y2="283.35" stroke="#000" stroke-width="0.8" />
<line x1="29.50" y1="278.68" x2="31.30" y2="278.68" stroke="#000" stroke-width="0.8" />
<line x1="29.70" y1="504.80" x2="33.20" y2="504.80" stroke="#000" stroke-width="1.0" />
<text x="29.00" y="507.43" font-size="7.3" text-anchor="end" font-weight="bold" font-style="normal" fill="#000" >0</text>
<line x1="29.70" y1="485.38" x2="33.20" y2="485.38" stroke="#000" stroke-width="1.0" />
<text x="29.00" y="488.01" font-size="7.3" text-anchor="end" font-weight="bold" font-style="normal" fill="#000" >20</text>
<line x1="29.70" y1="465.96" x2="33.20" y2="465.96" stroke="#000" stroke-width="1.0" />
<text x="29.00" y="468.59" font-size="7.3" text-anchor="end" font-weight="bold" font-style="normal" fill="#000" >40</text>
<line x1="29.70" y1="446.54" x2="33.20" y2="446.54" stroke="#000" stroke-width="1.0" />
<text x="29.00" y="449.17" font-size="7.3" text-anchor="end" font-weight="bold" font-style="normal" fill="#000" >60</text>
<line x1="29.70" y1="427.12" x2="33.20" y2="427.12" stroke="#000" stroke-width="1.0" />
<text x="29.00" y="429.75" font-size="7.3" text-anchor="end" font-weight="bold" font-style="normal" fill="#000" >80</text>
<line x1="29.70" y1="407.70" x2="33.20" y2="407.70" stroke="#000" stroke-width="1.0" />
<text x="29.00" y="410.33" font-size="7.3" text-anchor="end" font-weight="bold" font-style="normal" fill="#000" >100</text>
<line x1="31.40" y1="499.94" x2="33.20" y2="499.94" stroke="#000" stroke-width="0.8" />
<line x1="31.40" y1="495.09" x2="33.20" y2="495.09" stroke="#000" stroke-width="0.8" />
<line x1="31.40" y1="490.24" x2="33.20" y2="490.24" stroke="#000" stroke-width="0.8" />
<line x1="31.40" y1="480.52" x2="33.20" y2="480.52" stroke="#000" stroke-width="0.8" />
<line x1="31.40" y1="475.67" x2="33.20" y2="475.67" stroke="#000" stroke-width="0.8" />
<line x1="31.40" y1="470.81" x2="33.20" y2="470.81" stroke="#000" stroke-width="0.8" />
<line x1="31.40" y1="461.11" x2="33.20" y2="461.11" stroke="#000" stroke-width="0.8" />
<line x1="31.40" y1="456.25" x2="33.20" y2="456.25" stroke="#000" stroke-width="0.8" />
<line x1="31.40" y1="451.39" x2="33.20" y2="451.39" stroke="#000" stroke-width="0.8" />
<line x1="31.40" y1="441.69" x2="33.20" y2="441.69" stroke="#000" stroke-width="0.8" />
<line x1="31.40" y1="436.83" x2="33.20" y2="436.83" stroke="#000" stroke-width="0.8" />
<line x1="31.40" y1="431.98" x2="33.20" y2="431.98" stroke="#000" stroke-width="0.8" />
<line x1="31.40" y1="422.26" x2="33.20" y2="422.26" stroke="#000" stroke-width="0.8" />
<line x1="31.40" y1="417.41" x2="33.20" y2="417.41" stroke="#000" stroke-width="0.8" />
<line x1="31.40" y1="412.56" x2="33.20" y2="412.56" stroke="#000" stroke-width="0.8" />
<text x="96.00" y="257.50" font-size="9.3" text-anchor="middle" font-weight="bold" font-style="normal" fill="#000" >Normal B cells</text>
<text x="225.40" y="257.50" font-size="9.3" text-anchor="middle" font-weight="bold" font-style="normal" fill="#000" ><tspan font-style="italic">STAT1</tspan> mutant</text>
<text x="350.50" y="257.50" font-size="9.3" text-anchor="middle" font-weight="bold" font-style="normal" fill="#000" ><tspan font-style="italic">STAT3</tspan> mutant</text>
<text x="95.30" y="396.30" font-size="9.3" text-anchor="middle" font-weight="bold" font-style="normal" fill="#000" ><tspan font-style="italic">IL21R</tspan> mutant</text>
<text x="235.30" y="396.30" font-size="9.3" text-anchor="middle" font-weight="bold" font-style="normal" fill="#000" ><tspan font-style="italic">IL2RG</tspan> mutant</text>
<text transform="translate(7.9,315.8) rotate(-90)" font-size="10.8" font-weight="bold" text-anchor="middle">% Max</text>
<text transform="translate(11.0,449.8) rotate(-90)" font-size="10.8" font-weight="bold" text-anchor="middle">% Max</text>
<line x1="39.20" y1="367.70" x2="39.20" y2="370.50" stroke="#000" stroke-width="1.1" />
<line x1="57.00" y1="367.70" x2="57.00" y2="370.50" stroke="#000" stroke-width="1.1" />
<line x1="89.20" y1="367.70" x2="89.20" y2="370.50" stroke="#000" stroke-width="1.1" />
<line x1="120.00" y1="367.70" x2="120.00" y2="370.50" stroke="#000" stroke-width="1.1" />
<line x1="150.50" y1="367.70" x2="150.50" y2="370.50" stroke="#000" stroke-width="1.1" />
<text x="39.20" y="379.60" font-size="7.5" text-anchor="middle" font-weight="bold" font-style="normal" fill="#000" >0</text>
<text x="58.00" y="379.60" font-size="7.5" text-anchor="middle" font-weight="bold">10<tspan font-size="5.25" dy="-2.62">2</tspan></text>
<text x="90.20" y="379.60" font-size="7.5" text-anchor="middle" font-weight="bold">10<tspan font-size="5.25" dy="-2.62">3</tspan></text>
<text x="121.00" y="379.60" font-size="7.5" text-anchor="middle" font-weight="bold">10<tspan font-size="5.25" dy="-2.62">4</tspan></text>
<text x="151.50" y="379.60" font-size="7.5" text-anchor="middle" font-weight="bold">10<tspan font-size="5.25" dy="-2.62">5</tspan></text>
<line x1="168.50" y1="367.70" x2="168.50" y2="370.50" stroke="#000" stroke-width="1.1" />
<line x1="187.00" y1="367.70" x2="187.00" y2="370.50" stroke="#000" stroke-width="1.1" />
<line x1="218.30" y1="367.70" x2="218.30" y2="370.50" stroke="#000" stroke-width="1.1" />
<line x1="250.00" y1="367.70" x2="250.00" y2="370.50" stroke="#000" stroke-width="1.1" />
<line x1="282.00" y1="367.70" x2="282.00" y2="370.50" stroke="#000" stroke-width="1.1" />
<text x="168.50" y="379.60" font-size="7.5" text-anchor="middle" font-weight="bold" font-style="normal" fill="#000" >0</text>
<text x="188.00" y="379.60" font-size="7.5" text-anchor="middle" font-weight="bold">10<tspan font-size="5.25" dy="-2.62">2</tspan></text>
<text x="219.30" y="379.60" font-size="7.5" text-anchor="middle" font-weight="bold">10<tspan font-size="5.25" dy="-2.62">3</tspan></text>
<text x="251.00" y="379.60" font-size="7.5" text-anchor="middle" font-weight="bold">10<tspan font-size="5.25" dy="-2.62">4</tspan></text>
<text x="283.00" y="379.60" font-size="7.5" text-anchor="middle" font-weight="bold">10<tspan font-size="5.25" dy="-2.62">5</tspan></text>
<line x1="292.30" y1="367.70" x2="292.30" y2="370.50" stroke="#000" stroke-width="1.1" />
<line x1="309.00" y1="367.70" x2="309.00" y2="370.50" stroke="#000" stroke-width="1.1" />
<line x1="343.00" y1="367.70" x2="343.00" y2="370.50" stroke="#000" stroke-width="1.1" />
<line x1="373.80" y1="367.70" x2="373.80" y2="370.50" stroke="#000" stroke-width="1.1" />
<line x1="404.50" y1="367.70" x2="404.50" y2="370.50" stroke="#000" stroke-width="1.1" />
<text x="292.30" y="379.60" font-size="7.5" text-anchor="middle" font-weight="bold" font-style="normal" fill="#000" >0</text>
<text x="310.00" y="379.60" font-size="7.5" text-anchor="middle" font-weight="bold">10<tspan font-size="5.25" dy="-2.62">2</tspan></text>
<text x="344.00" y="379.60" font-size="7.5" text-anchor="middle" font-weight="bold">10<tspan font-size="5.25" dy="-2.62">3</tspan></text>
<text x="374.80" y="379.60" font-size="7.5" text-anchor="middle" font-weight="bold">10<tspan font-size="5.25" dy="-2.62">4</tspan></text>
<text x="405.50" y="379.60" font-size="7.5" text-anchor="middle" font-weight="bold">10<tspan font-size="5.25" dy="-2.62">5</tspan></text>
<line x1="41.00" y1="505.20" x2="41.00" y2="508.00" stroke="#000" stroke-width="1.1" />
<line x1="57.00" y1="505.20" x2="57.00" y2="508.00" stroke="#000" stroke-width="1.1" />
<line x1="90.00" y1="505.20" x2="90.00" y2="508.00" stroke="#000" stroke-width="1.1" />
<line x1="123.00" y1="505.20" x2="123.00" y2="508.00" stroke="#000" stroke-width="1.1" />
<line x1="151.00" y1="505.20" x2="151.00" y2="508.00" stroke="#000" stroke-width="1.1" />
<text x="41.00" y="517.50" font-size="7.5" text-anchor="middle" font-weight="bold" font-style="normal" fill="#000" >0</text>
<text x="58.00" y="517.50" font-size="7.5" text-anchor="middle" font-weight="bold">10<tspan font-size="5.25" dy="-2.62">2</tspan></text>
<text x="91.00" y="517.50" font-size="7.5" text-anchor="middle" font-weight="bold">10<tspan font-size="5.25" dy="-2.62">3</tspan></text>
<text x="124.00" y="517.50" font-size="7.5" text-anchor="middle" font-weight="bold">10<tspan font-size="5.25" dy="-2.62">4</tspan></text>
<text x="152.00" y="517.50" font-size="7.5" text-anchor="middle" font-weight="bold">10<tspan font-size="5.25" dy="-2.62">5</tspan></text>
<line x1="170.00" y1="505.20" x2="170.00" y2="508.00" stroke="#000" stroke-width="1.1" />
<line x1="186.00" y1="505.20" x2="186.00" y2="508.00" stroke="#000" stroke-width="1.1" />
<line x1="219.40" y1="505.20" x2="219.40" y2="508.00" stroke="#000" stroke-width="1.1" />
<line x1="252.30" y1="505.20" x2="252.30" y2="508.00" stroke="#000" stroke-width="1.1" />
<line x1="281.50" y1="505.20" x2="281.50" y2="508.00" stroke="#000" stroke-width="1.1" />
<text x="170.00" y="517.50" font-size="7.5" text-anchor="middle" font-weight="bold" font-style="normal" fill="#000" >0</text>
<text x="187.00" y="517.50" font-size="7.5" text-anchor="middle" font-weight="bold">10<tspan font-size="5.25" dy="-2.62">2</tspan></text>
<text x="220.40" y="517.50" font-size="7.5" text-anchor="middle" font-weight="bold">10<tspan font-size="5.25" dy="-2.62">3</tspan></text>
<text x="253.30" y="517.50" font-size="7.5" text-anchor="middle" font-weight="bold">10<tspan font-size="5.25" dy="-2.62">4</tspan></text>
<text x="282.50" y="517.50" font-size="7.5" text-anchor="middle" font-weight="bold">10<tspan font-size="5.25" dy="-2.62">5</tspan></text>
<text x="29.00" y="536.80" font-size="9.0" text-anchor="start" font-weight="bold" font-style="normal" fill="#000" >CD25</text>
<line x1="57.00" y1="534.40" x2="282.00" y2="534.40" stroke="#000" stroke-width="1.4" />
<path d="M280.6,529.7 L289.8,534.4 L280.6,539.1 Z" fill="#000"/>
<line x1="426.50" y1="292.20" x2="442.80" y2="292.20" stroke="#3a3a3a" stroke-width="2.2" />
<text x="446.40" y="295.30" font-size="8.9" text-anchor="start" font-weight="bold" font-style="normal" fill="#000" >Day 0</text>
<line x1="426.50" y1="313.40" x2="442.80" y2="313.40" stroke="#2a2a78" stroke-width="2.2" />
<text x="446.40" y="316.50" font-size="8.8" text-anchor="start" font-weight="bold" font-style="normal" fill="#000" >CD40L for 4 days</text>
<line x1="426.50" y1="330.70" x2="442.80" y2="330.70" stroke="#b0141c" stroke-width="2.2" />
<text x="445.50" y="333.80" font-size="8.8" text-anchor="start" font-weight="bold" font-style="normal" fill="#000" >+ IL-21 for 4 days</text>
<text x="300.50" y="401.20" font-size="18" text-anchor="start" font-weight="bold" font-style="normal" fill="#000" >C</text>
<line x1="341.20" y1="404.80" x2="341.20" y2="507.30" stroke="#000" stroke-width="1.6" />
<line x1="340.50" y1="506.60" x2="460.00" y2="506.60" stroke="#000" stroke-width="1.6" />
<line x1="337.40" y1="506.60" x2="341.20" y2="506.60" stroke="#000" stroke-width="1.1" />
<text x="336.40" y="509.20" font-size="7.2" text-anchor="end" font-weight="bold" font-style="normal" fill="#000" >0</text>
<line x1="337.40" y1="481.15" x2="341.20" y2="481.15" stroke="#000" stroke-width="1.1" />
<text x="336.40" y="483.75" font-size="7.2" text-anchor="end" font-weight="bold" font-style="normal" fill="#000" >3000</text>
<line x1="337.40" y1="455.70" x2="341.20" y2="455.70" stroke="#000" stroke-width="1.1" />
<text x="336.40" y="458.30" font-size="7.2" text-anchor="end" font-weight="bold" font-style="normal" fill="#000" >6000</text>
<line x1="337.40" y1="430.25" x2="341.20" y2="430.25" stroke="#000" stroke-width="1.1" />
<text x="336.40" y="432.85" font-size="7.2" text-anchor="end" font-weight="bold" font-style="normal" fill="#000" >9000</text>
<line x1="337.40" y1="404.80" x2="341.20" y2="404.80" stroke="#000" stroke-width="1.1" />
<text x="336.40" y="407.40" font-size="7.2" text-anchor="end" font-weight="bold" font-style="normal" fill="#000" >12000</text>
<text transform="translate(309.6,454.0) rotate(-90)" font-size="9.2" font-weight="bold" text-anchor="middle">CD25 Expression (MFI)</text>
<line x1="351.60" y1="488.36" x2="351.60" y2="486.24" stroke="#000" stroke-width="1.3" />
<line x1="349.30" y1="486.24" x2="353.90" y2="486.24" stroke="#000" stroke-width="1.3" />
<rect x="347.00" y="488.36" width="9.20" height="18.24" fill="#4b55a6" stroke="#000" stroke-width="1.2"/>
<line x1="363.80" y1="492.18" x2="363.80" y2="488.36" stroke="#000" stroke-width="1.3" />
<line x1="361.50" y1="488.36" x2="366.10" y2="488.36" stroke="#000" stroke-width="1.3" />
<rect x="359.20" y="492.18" width="9.20" height="14.42" fill="#d9363d" stroke="#000" stroke-width="1.2"/>
<line x1="375.60" y1="498.12" x2="375.60" y2="494.30" stroke="#000" stroke-width="1.3" />
<line x1="373.30" y1="494.30" x2="377.90" y2="494.30" stroke="#000" stroke-width="1.3" />
<rect x="371.20" y="498.12" width="8.80" height="8.48" fill="#b9d46a" stroke="#000" stroke-width="1.2"/>
<line x1="388.20" y1="498.97" x2="388.20" y2="498.12" stroke="#000" stroke-width="1.3" />
<line x1="385.90" y1="498.12" x2="390.50" y2="498.12" stroke="#000" stroke-width="1.3" />
<rect x="383.40" y="498.97" width="9.60" height="7.63" fill="#000" stroke="#000" stroke-width="1.2"/>
<line x1="410.40" y1="430.25" x2="410.40" y2="419.22" stroke="#000" stroke-width="1.3" />
<line x1="408.10" y1="419.22" x2="412.70" y2="419.22" stroke="#000" stroke-width="1.3" />
<rect x="405.80" y="430.25" width="9.20" height="76.35" fill="#4b55a6" stroke="#000" stroke-width="1.2"/>
<line x1="423.75" y1="472.67" x2="423.75" y2="462.91" stroke="#000" stroke-width="1.3" />
<line x1="421.45" y1="462.91" x2="426.05" y2="462.91" stroke="#000" stroke-width="1.3" />
<rect x="419.50" y="472.67" width="8.50" height="33.93" fill="#d9363d" stroke="#000" stroke-width="1.2"/>
<line x1="436.00" y1="497.27" x2="436.00" y2="493.45" stroke="#000" stroke-width="1.3" />
<line x1="433.70" y1="493.45" x2="438.30" y2="493.45" stroke="#000" stroke-width="1.3" />
<rect x="432.00" y="497.27" width="8.00" height="9.33" fill="#b9d46a" stroke="#000" stroke-width="1.2"/>
<line x1="447.90" y1="498.12" x2="447.90" y2="496.84" stroke="#000" stroke-width="1.3" />
<line x1="445.60" y1="496.84" x2="450.20" y2="496.84" stroke="#000" stroke-width="1.3" />
<rect x="443.30" y="498.12" width="9.20" height="8.48" fill="#000" stroke="#000" stroke-width="1.2"/>
<line x1="370.20" y1="506.60" x2="370.20" y2="509.60" stroke="#000" stroke-width="1.2" />
<line x1="429.20" y1="506.60" x2="429.20" y2="509.60" stroke="#000" stroke-width="1.2" />
<text x="369.60" y="522.50" font-size="8.6" text-anchor="middle" font-weight="bold" font-style="normal" fill="#000" >CD40L alone</text>
<text x="430.60" y="522.30" font-size="8.3" text-anchor="middle" font-weight="bold" font-style="normal" fill="#000" >+ IL-21</text>
<line x1="409.80" y1="393.70" x2="450.00" y2="393.70" stroke="#000" stroke-width="1.5" />
<line x1="409.80" y1="390.80" x2="409.80" y2="396.60" stroke="#000" stroke-width="1.3" />
<line x1="450.00" y1="390.80" x2="450.00" y2="396.60" stroke="#000" stroke-width="1.3" />
<polygon points="427.05,387.00 427.73,388.67 429.52,388.80 428.14,389.96 428.58,391.70 427.05,390.75 425.52,391.70 425.96,389.96 424.58,388.80 426.37,388.67" fill="#000" stroke="#000" stroke-width="0.5" stroke-linejoin="round"/>
<polygon points="431.90,387.00 432.58,388.67 434.37,388.80 432.99,389.96 433.43,391.70 431.90,390.75 430.37,391.70 430.81,389.96 429.43,388.80 431.22,388.67" fill="#000" stroke="#000" stroke-width="0.5" stroke-linejoin="round"/>
<polygon points="436.75,387.00 437.43,388.67 439.22,388.80 437.84,389.96 438.28,391.70 436.75,390.75 435.22,391.70 435.66,389.96 434.28,388.80 436.07,388.67" fill="#000" stroke="#000" stroke-width="0.5" stroke-linejoin="round"/>
<line x1="409.80" y1="405.20" x2="436.30" y2="405.20" stroke="#000" stroke-width="1.5" />
<line x1="409.80" y1="402.30" x2="409.80" y2="408.10" stroke="#000" stroke-width="1.3" />
<line x1="436.30" y1="402.30" x2="436.30" y2="408.10" stroke="#000" stroke-width="1.3" />
<polygon points="418.65,397.30 419.33,398.97 421.12,399.10 419.74,400.26 420.18,402.00 418.65,401.05 417.12,402.00 417.56,400.26 416.18,399.10 417.97,398.97" fill="#000" stroke="#000" stroke-width="0.5" stroke-linejoin="round"/>
<polygon points="423.50,397.30 424.18,398.97 425.97,399.10 424.59,400.26 425.03,402.00 423.50,401.05 421.97,402.00 422.41,400.26 421.03,399.10 422.82,398.97" fill="#000" stroke="#000" stroke-width="0.5" stroke-linejoin="round"/>
<polygon points="428.35,397.30 429.03,398.97 430.82,399.10 429.44,400.26 429.88,402.00 428.35,401.05 426.82,402.00 427.26,400.26 425.88,399.10 427.67,398.97" fill="#000" stroke="#000" stroke-width="0.5" stroke-linejoin="round"/>
<line x1="409.80" y1="414.30" x2="424.20" y2="414.30" stroke="#000" stroke-width="1.5" />
<line x1="409.80" y1="411.40" x2="409.80" y2="417.20" stroke="#000" stroke-width="1.3" />
<line x1="424.20" y1="411.40" x2="424.20" y2="417.20" stroke="#000" stroke-width="1.3" />
<polygon points="414.27,407.90 414.95,409.57 416.75,409.70 415.37,410.86 415.80,412.60 414.27,411.65 412.75,412.60 413.18,410.86 411.80,409.70 413.60,409.57" fill="#000" stroke="#000" stroke-width="0.5" stroke-linejoin="round"/>
<polygon points="419.12,407.90 419.80,409.57 421.60,409.70 420.22,410.86 420.65,412.60 419.12,411.65 417.60,412.60 418.03,410.86 416.65,409.70 418.45,409.57" fill="#000" stroke="#000" stroke-width="0.5" stroke-linejoin="round"/>
<rect x="444.90" y="420.10" width="11.40" height="7.40" fill="#4b55a6" stroke="#000" stroke-width="1.4"/>
<text x="461.30" y="427.00" font-size="8.6" text-anchor="start" font-weight="bold" font-style="normal" fill="#000" >Normal B cells</text>
<rect x="444.90" y="434.30" width="11.40" height="7.40" fill="#d9363d" stroke="#000" stroke-width="1.4"/>
<text x="461.30" y="441.20" font-size="8.6" text-anchor="start" font-weight="bold" font-style="normal" fill="#000" ><tspan font-style="italic">STAT3</tspan> mut</text>
<rect x="444.90" y="446.40" width="11.40" height="7.40" fill="#b9d46a" stroke="#000" stroke-width="1.4"/>
<text x="461.30" y="453.30" font-size="8.6" text-anchor="start" font-weight="bold" font-style="normal" fill="#000" ><tspan font-style="italic">IL2RG</tspan> mut</text>
<rect x="444.90" y="457.90" width="11.40" height="7.40" fill="#000" stroke="#000" stroke-width="1.4"/>
<text x="461.30" y="464.80" font-size="8.6" text-anchor="start" font-weight="bold" font-style="normal" fill="#000" ><tspan font-style="italic">IL21R</tspan> mut</text>
<text x="0.10" y="566.10" font-size="18" text-anchor="start" font-weight="bold" font-style="normal" fill="#000" >D</text>
<line x1="55.60" y1="566.90" x2="55.60" y2="682.80" stroke="#000" stroke-width="1.5" />
<line x1="54.90" y1="682.10" x2="238.50" y2="682.10" stroke="#000" stroke-width="1.5" />
<line x1="52.00" y1="682.10" x2="55.60" y2="682.10" stroke="#000" stroke-width="1.1" />
<text x="51.00" y="684.70" font-size="7.2" text-anchor="end" font-weight="bold" font-style="normal" fill="#000" >0</text>
<line x1="52.00" y1="653.30" x2="55.60" y2="653.30" stroke="#000" stroke-width="1.1" />
<text x="51.00" y="655.90" font-size="7.2" text-anchor="end" font-weight="bold" font-style="normal" fill="#000" >3000</text>
<line x1="52.00" y1="624.50" x2="55.60" y2="624.50" stroke="#000" stroke-width="1.1" />
<text x="51.00" y="627.10" font-size="7.2" text-anchor="end" font-weight="bold" font-style="normal" fill="#000" >6000</text>
<line x1="52.00" y1="595.70" x2="55.60" y2="595.70" stroke="#000" stroke-width="1.1" />
<text x="51.00" y="598.30" font-size="7.2" text-anchor="end" font-weight="bold" font-style="normal" fill="#000" >9000</text>
<line x1="52.00" y1="566.90" x2="55.60" y2="566.90" stroke="#000" stroke-width="1.1" />
<text x="51.00" y="569.50" font-size="7.2" text-anchor="end" font-weight="bold" font-style="normal" fill="#000" >12000</text>
<line x1="73.80" y1="682.10" x2="73.80" y2="685.50" stroke="#000" stroke-width="1.3" />
<text x="73.80" y="695.00" font-size="7.3" text-anchor="middle" font-weight="bold" font-style="normal" fill="#000" >0</text>
<line x1="110.40" y1="682.10" x2="110.40" y2="685.50" stroke="#000" stroke-width="1.3" />
<text x="110.40" y="695.00" font-size="7.3" text-anchor="middle" font-weight="bold" font-style="normal" fill="#000" >1</text>
<line x1="146.90" y1="682.10" x2="146.90" y2="685.50" stroke="#000" stroke-width="1.3" />
<text x="146.90" y="695.00" font-size="7.3" text-anchor="middle" font-weight="bold" font-style="normal" fill="#000" >2</text>
<line x1="183.60" y1="682.10" x2="183.60" y2="685.50" stroke="#000" stroke-width="1.3" />
<text x="183.60" y="695.00" font-size="7.3" text-anchor="middle" font-weight="bold" font-style="normal" fill="#000" >3</text>
<line x1="220.20" y1="682.10" x2="220.20" y2="685.50" stroke="#000" stroke-width="1.3" />
<text x="220.20" y="695.00" font-size="7.3" text-anchor="middle" font-weight="bold" font-style="normal" fill="#000" >4</text>
<text x="143.50" y="565.00" font-size="9.4" text-anchor="middle" font-weight="bold" font-style="normal" fill="#000" >CD40L alone</text>
<text x="148.80" y="709.80" font-size="9.5" text-anchor="middle" font-weight="bold" font-style="normal" fill="#000" >Incubation (days)</text>
<text transform="translate(18.30,624.50) rotate(-90)" font-size="9.2" font-weight="bold" text-anchor="middle">CD25 Expression (MFI)</text>
<path d="M74.60,680.18 L111.20,673.46 L147.70,670.58 L221.00,672.50" fill="none" stroke="#000" stroke-width="1.7"/>
<line x1="111.20" y1="676.34" x2="111.20" y2="670.58" stroke="#000" stroke-width="1.7" />
<line x1="108.10" y1="670.58" x2="114.30" y2="670.58" stroke="#000" stroke-width="1.7" />
<line x1="108.10" y1="676.34" x2="114.30" y2="676.34" stroke="#000" stroke-width="1.7" />
<line x1="147.70" y1="672.50" x2="147.70" y2="668.66" stroke="#000" stroke-width="1.7" />
<line x1="144.60" y1="668.66" x2="150.80" y2="668.66" stroke="#000" stroke-width="1.7" />
<line x1="144.60" y1="672.50" x2="150.80" y2="672.50" stroke="#000" stroke-width="1.7" />
<line x1="221.00" y1="673.94" x2="221.00" y2="671.06" stroke="#000" stroke-width="1.7" />
<line x1="217.90" y1="671.06" x2="224.10" y2="671.06" stroke="#000" stroke-width="1.7" />
<line x1="217.90" y1="673.94" x2="224.10" y2="673.94" stroke="#000" stroke-width="1.7" />
<path d="M74.60,680.18 L111.20,673.46 L147.70,671.54 L221.00,672.50" fill="none" stroke="#7dbb42" stroke-width="1.7"/>
<path d="M74.60,677.58 L77.20,682.18 L72.00,682.18 Z" fill="#7dbb42"/>
<line x1="111.20" y1="676.34" x2="111.20" y2="670.58" stroke="#7dbb42" stroke-width="1.7" />
<line x1="108.10" y1="670.58" x2="114.30" y2="670.58" stroke="#7dbb42" stroke-width="1.7" />
<line x1="108.10" y1="676.34" x2="114.30" y2="676.34" stroke="#7dbb42" stroke-width="1.7" />
<path d="M111.20,670.86 L113.80,675.46 L108.60,675.46 Z" fill="#7dbb42"/>
<line x1="147.70" y1="677.30" x2="147.70" y2="665.78" stroke="#7dbb42" stroke-width="1.7" />
<line x1="144.60" y1="665.78" x2="150.80" y2="665.78" stroke="#7dbb42" stroke-width="1.7" />
<line x1="144.60" y1="677.30" x2="150.80" y2="677.30" stroke="#7dbb42" stroke-width="1.7" />
<path d="M147.70,668.94 L150.30,673.54 L145.10,673.54 Z" fill="#7dbb42"/>
<line x1="221.00" y1="675.38" x2="221.00" y2="669.62" stroke="#7dbb42" stroke-width="1.7" />
<line x1="217.90" y1="669.62" x2="224.10" y2="669.62" stroke="#7dbb42" stroke-width="1.7" />
<line x1="217.90" y1="675.38" x2="224.10" y2="675.38" stroke="#7dbb42" stroke-width="1.7" />
<path d="M221.00,669.90 L223.60,674.50 L218.40,674.50 Z" fill="#7dbb42"/>
<path d="M74.60,680.18 L111.20,673.46 L147.70,662.90 L221.00,660.98" fill="none" stroke="#3d4aa0" stroke-width="1.7"/>
<rect x="71.90" y="677.48" width="5.40" height="5.40" fill="#3d4aa0" stroke="none" stroke-width="1.0"/>
<line x1="111.20" y1="676.34" x2="111.20" y2="670.58" stroke="#3d4aa0" stroke-width="1.7" />
<line x1="108.10" y1="670.58" x2="114.30" y2="670.58" stroke="#3d4aa0" stroke-width="1.7" />
<line x1="108.10" y1="676.34" x2="114.30" y2="676.34" stroke="#3d4aa0" stroke-width="1.7" />
<rect x="108.50" y="670.76" width="5.40" height="5.40" fill="#3d4aa0" stroke="none" stroke-width="1.0"/>
<line x1="147.70" y1="665.78" x2="147.70" y2="660.02" stroke="#3d4aa0" stroke-width="1.7" />
<line x1="144.60" y1="660.02" x2="150.80" y2="660.02" stroke="#3d4aa0" stroke-width="1.7" />
<line x1="144.60" y1="665.78" x2="150.80" y2="665.78" stroke="#3d4aa0" stroke-width="1.7" />
<rect x="145.00" y="660.20" width="5.40" height="5.40" fill="#3d4aa0" stroke="none" stroke-width="1.0"/>
<line x1="221.00" y1="662.42" x2="221.00" y2="659.54" stroke="#3d4aa0" stroke-width="1.7" />
<line x1="217.90" y1="659.54" x2="224.10" y2="659.54" stroke="#3d4aa0" stroke-width="1.7" />
<line x1="217.90" y1="662.42" x2="224.10" y2="662.42" stroke="#3d4aa0" stroke-width="1.7" />
<rect x="218.30" y="658.28" width="5.40" height="5.40" fill="#3d4aa0" stroke="none" stroke-width="1.0"/>
<path d="M74.60,680.18 L111.20,672.50 L147.70,662.90 L221.00,665.78" fill="none" stroke="#d3222d" stroke-width="1.7"/>
<rect x="71.90" y="677.48" width="5.40" height="5.40" fill="#d3222d" stroke="none" stroke-width="1.0"/>
<line x1="111.20" y1="677.30" x2="111.20" y2="667.70" stroke="#d3222d" stroke-width="1.7" />
<line x1="108.10" y1="667.70" x2="114.30" y2="667.70" stroke="#d3222d" stroke-width="1.7" />
<line x1="108.10" y1="677.30" x2="114.30" y2="677.30" stroke="#d3222d" stroke-width="1.7" />
<rect x="108.50" y="669.80" width="5.40" height="5.40" fill="#d3222d" stroke="none" stroke-width="1.0"/>
<line x1="147.70" y1="665.78" x2="147.70" y2="660.02" stroke="#d3222d" stroke-width="1.7" />
<line x1="144.60" y1="660.02" x2="150.80" y2="660.02" stroke="#d3222d" stroke-width="1.7" />
<line x1="144.60" y1="665.78" x2="150.80" y2="665.78" stroke="#d3222d" stroke-width="1.7" />
<rect x="145.00" y="660.20" width="5.40" height="5.40" fill="#d3222d" stroke="none" stroke-width="1.0"/>
<line x1="221.00" y1="669.62" x2="221.00" y2="661.94" stroke="#d3222d" stroke-width="1.7" />
<line x1="217.90" y1="661.94" x2="224.10" y2="661.94" stroke="#d3222d" stroke-width="1.7" />
<line x1="217.90" y1="669.62" x2="224.10" y2="669.62" stroke="#d3222d" stroke-width="1.7" />
<rect x="218.30" y="663.08" width="5.40" height="5.40" fill="#d3222d" stroke="none" stroke-width="1.0"/>
<text x="254.90" y="567.20" font-size="18" text-anchor="start" font-weight="bold" font-style="normal" fill="#000" >E</text>
<line x1="302.50" y1="566.30" x2="302.50" y2="682.20" stroke="#000" stroke-width="1.5" />
<line x1="301.80" y1="681.50" x2="482.30" y2="681.50" stroke="#000" stroke-width="1.5" />
<line x1="298.90" y1="681.50" x2="302.50" y2="681.50" stroke="#000" stroke-width="1.1" />
<text x="297.90" y="684.10" font-size="7.2" text-anchor="end" font-weight="bold" font-style="normal" fill="#000" >0</text>
<line x1="298.90" y1="652.70" x2="302.50" y2="652.70" stroke="#000" stroke-width="1.1" />
<text x="297.90" y="655.30" font-size="7.2" text-anchor="end" font-weight="bold" font-style="normal" fill="#000" >3000</text>
<line x1="298.90" y1="623.90" x2="302.50" y2="623.90" stroke="#000" stroke-width="1.1" />
<text x="297.90" y="626.50" font-size="7.2" text-anchor="end" font-weight="bold" font-style="normal" fill="#000" >6000</text>
<line x1="298.90" y1="595.10" x2="302.50" y2="595.10" stroke="#000" stroke-width="1.1" />
<text x="297.90" y="597.70" font-size="7.2" text-anchor="end" font-weight="bold" font-style="normal" fill="#000" >9000</text>
<line x1="298.90" y1="566.30" x2="302.50" y2="566.30" stroke="#000" stroke-width="1.1" />
<text x="297.90" y="568.90" font-size="7.2" text-anchor="end" font-weight="bold" font-style="normal" fill="#000" >12000</text>
<line x1="321.10" y1="681.50" x2="321.10" y2="684.90" stroke="#000" stroke-width="1.3" />
<text x="321.10" y="692.20" font-size="7.3" text-anchor="middle" font-weight="bold" font-style="normal" fill="#000" >0</text>
<line x1="357.30" y1="681.50" x2="357.30" y2="684.90" stroke="#000" stroke-width="1.3" />
<text x="357.30" y="692.20" font-size="7.3" text-anchor="middle" font-weight="bold" font-style="normal" fill="#000" >1</text>
<line x1="393.70" y1="681.50" x2="393.70" y2="684.90" stroke="#000" stroke-width="1.3" />
<text x="393.70" y="692.20" font-size="7.3" text-anchor="middle" font-weight="bold" font-style="normal" fill="#000" >2</text>
<line x1="430.00" y1="681.50" x2="430.00" y2="684.90" stroke="#000" stroke-width="1.3" />
<text x="430.00" y="692.20" font-size="7.3" text-anchor="middle" font-weight="bold" font-style="normal" fill="#000" >3</text>
<line x1="466.20" y1="681.50" x2="466.20" y2="684.90" stroke="#000" stroke-width="1.3" />
<text x="466.20" y="692.20" font-size="7.3" text-anchor="middle" font-weight="bold" font-style="normal" fill="#000" >4</text>
<text x="392.00" y="565.50" font-size="9.4" text-anchor="middle" font-weight="bold" font-style="normal" fill="#000" >CD40L + IL-21</text>
<text x="395.80" y="706.80" font-size="9.5" text-anchor="middle" font-weight="bold" font-style="normal" fill="#000" >Incubation (days)</text>
<text transform="translate(263.80,623.90) rotate(-90)" font-size="9.2" font-weight="bold" text-anchor="middle">CD25 Expression (MFI)</text>
<path d="M321.90,679.58 L358.10,670.94 L394.50,666.62 L467.00,670.94" fill="none" stroke="#000" stroke-width="1.7"/>
<path d="M321.90,679.58 L358.10,672.38 L394.50,669.50 L467.00,670.46" fill="none" stroke="#7dbb42" stroke-width="1.7"/>
<path d="M321.90,676.98 L324.50,681.58 L319.30,681.58 Z" fill="#7dbb42"/>
<line x1="358.10" y1="676.70" x2="358.10" y2="668.06" stroke="#7dbb42" stroke-width="1.7" />
<line x1="355.00" y1="668.06" x2="361.20" y2="668.06" stroke="#7dbb42" stroke-width="1.7" />
<line x1="355.00" y1="676.70" x2="361.20" y2="676.70" stroke="#7dbb42" stroke-width="1.7" />
<path d="M358.10,669.78 L360.70,674.38 L355.50,674.38 Z" fill="#7dbb42"/>
<line x1="394.50" y1="673.82" x2="394.50" y2="665.18" stroke="#7dbb42" stroke-width="1.7" />
<line x1="391.40" y1="665.18" x2="397.60" y2="665.18" stroke="#7dbb42" stroke-width="1.7" />
<line x1="391.40" y1="673.82" x2="397.60" y2="673.82" stroke="#7dbb42" stroke-width="1.7" />
<path d="M394.50,666.90 L397.10,671.50 L391.90,671.50 Z" fill="#7dbb42"/>
<line x1="467.00" y1="674.78" x2="467.00" y2="666.14" stroke="#7dbb42" stroke-width="1.7" />
<line x1="463.90" y1="666.14" x2="470.10" y2="666.14" stroke="#7dbb42" stroke-width="1.7" />
<line x1="463.90" y1="674.78" x2="470.10" y2="674.78" stroke="#7dbb42" stroke-width="1.7" />
<path d="M467.00,667.86 L469.60,672.46 L464.40,672.46 Z" fill="#7dbb42"/>
<path d="M321.90,679.10 L358.10,656.54 L394.50,605.66 L467.00,595.58" fill="none" stroke="#3d4aa0" stroke-width="1.7"/>
<rect x="319.20" y="676.40" width="5.40" height="5.40" fill="#3d4aa0" stroke="none" stroke-width="1.0"/>
<line x1="358.10" y1="660.38" x2="358.10" y2="652.70" stroke="#3d4aa0" stroke-width="1.7" />
<line x1="355.00" y1="652.70" x2="361.20" y2="652.70" stroke="#3d4aa0" stroke-width="1.7" />
<line x1="355.00" y1="660.38" x2="361.20" y2="660.38" stroke="#3d4aa0" stroke-width="1.7" />
<rect x="355.40" y="653.84" width="5.40" height="5.40" fill="#3d4aa0" stroke="none" stroke-width="1.0"/>
<line x1="394.50" y1="614.78" x2="394.50" y2="596.54" stroke="#3d4aa0" stroke-width="1.7" />
<line x1="391.40" y1="596.54" x2="397.60" y2="596.54" stroke="#3d4aa0" stroke-width="1.7" />
<line x1="391.40" y1="614.78" x2="397.60" y2="614.78" stroke="#3d4aa0" stroke-width="1.7" />
<rect x="391.80" y="602.96" width="5.40" height="5.40" fill="#3d4aa0" stroke="none" stroke-width="1.0"/>
<line x1="467.00" y1="607.10" x2="467.00" y2="584.06" stroke="#3d4aa0" stroke-width="1.7" />
<line x1="463.90" y1="584.06" x2="470.10" y2="584.06" stroke="#3d4aa0" stroke-width="1.7" />
<line x1="463.90" y1="607.10" x2="470.10" y2="607.10" stroke="#3d4aa0" stroke-width="1.7" />
<rect x="464.30" y="592.88" width="5.40" height="5.40" fill="#3d4aa0" stroke="none" stroke-width="1.0"/>
<path d="M321.90,679.58 L358.10,663.26 L394.50,648.38 L467.00,643.58" fill="none" stroke="#d3222d" stroke-width="1.7"/>
<rect x="319.20" y="676.88" width="5.40" height="5.40" fill="#d3222d" stroke="none" stroke-width="1.0"/>
<line x1="358.10" y1="668.06" x2="358.10" y2="658.46" stroke="#d3222d" stroke-width="1.7" />
<line x1="355.00" y1="658.46" x2="361.20" y2="658.46" stroke="#d3222d" stroke-width="1.7" />
<line x1="355.00" y1="668.06" x2="361.20" y2="668.06" stroke="#d3222d" stroke-width="1.7" />
<rect x="355.40" y="660.56" width="5.40" height="5.40" fill="#d3222d" stroke="none" stroke-width="1.0"/>
<line x1="394.50" y1="656.06" x2="394.50" y2="640.70" stroke="#d3222d" stroke-width="1.7" />
<line x1="391.40" y1="640.70" x2="397.60" y2="640.70" stroke="#d3222d" stroke-width="1.7" />
<line x1="391.40" y1="656.06" x2="397.60" y2="656.06" stroke="#d3222d" stroke-width="1.7" />
<rect x="391.80" y="645.68" width="5.40" height="5.40" fill="#d3222d" stroke="none" stroke-width="1.0"/>
<line x1="467.00" y1="654.62" x2="467.00" y2="632.54" stroke="#d3222d" stroke-width="1.7" />
<line x1="463.90" y1="632.54" x2="470.10" y2="632.54" stroke="#d3222d" stroke-width="1.7" />
<line x1="463.90" y1="654.62" x2="470.10" y2="654.62" stroke="#d3222d" stroke-width="1.7" />
<rect x="464.30" y="640.88" width="5.40" height="5.40" fill="#d3222d" stroke="none" stroke-width="1.0"/>
<polygon points="401.90,641.20 402.58,642.87 404.37,643.00 402.99,644.16 403.43,645.90 401.90,644.95 400.37,645.90 400.81,644.16 399.43,643.00 401.22,642.87" fill="#000" stroke="#000" stroke-width="0.5" stroke-linejoin="round"/>
<polygon points="474.38,640.80 475.05,642.47 476.85,642.60 475.47,643.76 475.90,645.50 474.38,644.55 472.85,645.50 473.28,643.76 471.90,642.60 473.70,642.47" fill="#000" stroke="#000" stroke-width="0.5" stroke-linejoin="round"/>
<polygon points="479.23,640.80 479.90,642.47 481.70,642.60 480.32,643.76 480.75,645.50 479.23,644.55 477.70,645.50 478.13,643.76 476.75,642.60 478.55,642.47" fill="#000" stroke="#000" stroke-width="0.5" stroke-linejoin="round"/>
<polygon points="401.57,660.90 402.25,662.57 404.05,662.70 402.67,663.86 403.10,665.60 401.57,664.65 400.05,665.60 400.48,663.86 399.10,662.70 400.90,662.57" fill="#000" stroke="#000" stroke-width="0.5" stroke-linejoin="round"/>
<polygon points="406.43,660.90 407.10,662.57 408.90,662.70 407.52,663.86 407.95,665.60 406.43,664.65 404.90,665.60 405.33,663.86 403.95,662.70 405.75,662.57" fill="#000" stroke="#000" stroke-width="0.5" stroke-linejoin="round"/>
<polygon points="475.95,667.10 476.63,668.77 478.42,668.90 477.04,670.06 477.48,671.80 475.95,670.85 474.42,671.80 474.86,670.06 473.48,668.90 475.27,668.77" fill="#000" stroke="#000" stroke-width="0.5" stroke-linejoin="round"/>
<polygon points="480.80,667.10 481.48,668.77 483.27,668.90 481.89,670.06 482.33,671.80 480.80,670.85 479.27,671.80 479.71,670.06 478.33,668.90 480.12,668.77" fill="#000" stroke="#000" stroke-width="0.5" stroke-linejoin="round"/>
<polygon points="485.65,667.10 486.33,668.77 488.12,668.90 486.74,670.06 487.18,671.80 485.65,670.85 484.12,671.80 484.56,670.06 483.18,668.90 484.97,668.77" fill="#000" stroke="#000" stroke-width="0.5" stroke-linejoin="round"/>
<line x1="50.80" y1="729.00" x2="66.30" y2="729.00" stroke="#3d4aa0" stroke-width="2.2" />
<text x="69.20" y="732.00" font-size="8.5" text-anchor="start" font-weight="bold" font-style="normal" fill="#000" >Normal B cells</text>
<line x1="150.80" y1="729.00" x2="166.30" y2="729.00" stroke="#d3222d" stroke-width="2.2" />
<text x="169.20" y="732.00" font-size="8.5" text-anchor="start" font-weight="bold" font-style="normal" fill="#000" ><tspan font-style="italic">STAT3</tspan> mut B cells</text>
<line x1="263.80" y1="729.00" x2="279.30" y2="729.00" stroke="#7dbb42" stroke-width="2.2" />
<text x="282.20" y="732.00" font-size="8.5" text-anchor="start" font-weight="bold" font-style="normal" fill="#000" ><tspan font-style="italic">IL2RG</tspan> mut B cells</text>
<line x1="378.00" y1="729.00" x2="393.50" y2="729.00" stroke="#000" stroke-width="2.2" />
<text x="396.40" y="732.00" font-size="8.5" text-anchor="start" font-weight="bold" font-style="normal" fill="#000" ><tspan font-style="italic">IL21R</tspan> mut B cells</text>
</svg>
</body></html>
